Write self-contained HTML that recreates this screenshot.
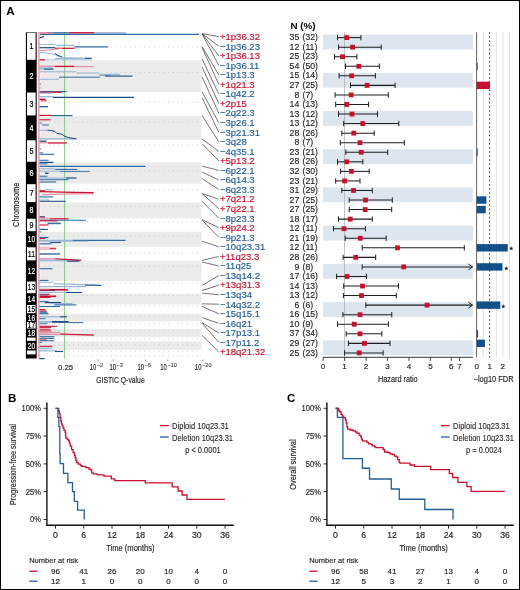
<!DOCTYPE html>
<html><head><meta charset="utf-8"><style>
html,body{margin:0;padding:0;background:#fff;}
body{width:520px;height:590px;overflow:hidden;}
svg{display:block;font-family:"Liberation Sans", sans-serif;will-change:transform;}
</style></head><body>
<svg width="520" height="590" viewBox="0 0 520 590">
<rect x="0" y="0" width="520" height="590" fill="#fff"/>
<text x="6.30" y="15.10" font-size="11.6" fill="#000" text-anchor="start" font-weight="bold" >A</text>
<rect x="40.30" y="60.30" width="161.20" height="31.70" fill="#ebebec" />
<rect x="40.30" y="115.90" width="161.20" height="23.90" fill="#ebebec" />
<rect x="40.30" y="162.30" width="161.20" height="21.40" fill="#ebebec" />
<rect x="40.30" y="202.60" width="161.20" height="15.60" fill="#ebebec" />
<rect x="40.30" y="231.70" width="161.20" height="15.10" fill="#ebebec" />
<rect x="40.30" y="260.90" width="161.20" height="20.10" fill="#ebebec" />
<rect x="40.30" y="293.70" width="161.20" height="10.80" fill="#ebebec" />
<rect x="40.30" y="313.70" width="161.20" height="7.80" fill="#ebebec" />
<rect x="40.30" y="329.00" width="161.20" height="8.10" fill="#ebebec" />
<rect x="40.30" y="341.30" width="161.20" height="8.70" fill="#ebebec" />
<line x1="39.80" y1="46.86" x2="201.50" y2="46.86" stroke="#c4c4c4" stroke-width="0.9" stroke-dasharray="0.9 3.85"/>
<line x1="39.80" y1="72.47" x2="201.50" y2="72.47" stroke="#c4c4c4" stroke-width="0.9" stroke-dasharray="0.9 3.85"/>
<line x1="39.80" y1="102.28" x2="201.50" y2="102.28" stroke="#c4c4c4" stroke-width="0.9" stroke-dasharray="0.9 3.85"/>
<line x1="39.80" y1="121.88" x2="201.50" y2="121.88" stroke="#c4c4c4" stroke-width="0.9" stroke-dasharray="0.9 3.85"/>
<line x1="39.80" y1="145.20" x2="201.50" y2="145.20" stroke="#c4c4c4" stroke-width="0.9" stroke-dasharray="0.9 3.85"/>
<line x1="39.80" y1="170.86" x2="201.50" y2="170.86" stroke="#c4c4c4" stroke-width="0.9" stroke-dasharray="0.9 3.85"/>
<line x1="39.80" y1="189.94" x2="201.50" y2="189.94" stroke="#c4c4c4" stroke-width="0.9" stroke-dasharray="0.9 3.85"/>
<line x1="39.80" y1="206.50" x2="201.50" y2="206.50" stroke="#c4c4c4" stroke-width="0.9" stroke-dasharray="0.9 3.85"/>
<line x1="39.80" y1="221.98" x2="201.50" y2="221.98" stroke="#c4c4c4" stroke-width="0.9" stroke-dasharray="0.9 3.85"/>
<line x1="39.80" y1="236.38" x2="201.50" y2="236.38" stroke="#c4c4c4" stroke-width="0.9" stroke-dasharray="0.9 3.85"/>
<line x1="39.80" y1="253.14" x2="201.50" y2="253.14" stroke="#c4c4c4" stroke-width="0.9" stroke-dasharray="0.9 3.85"/>
<line x1="39.80" y1="266.27" x2="201.50" y2="266.27" stroke="#c4c4c4" stroke-width="0.9" stroke-dasharray="0.9 3.85"/>
<line x1="39.80" y1="282.97" x2="201.50" y2="282.97" stroke="#c4c4c4" stroke-width="0.9" stroke-dasharray="0.9 3.85"/>
<line x1="39.80" y1="295.47" x2="201.50" y2="295.47" stroke="#c4c4c4" stroke-width="0.9" stroke-dasharray="0.9 3.85"/>
<line x1="39.80" y1="306.20" x2="201.50" y2="306.20" stroke="#c4c4c4" stroke-width="0.9" stroke-dasharray="0.9 3.85"/>
<line x1="39.80" y1="316.86" x2="201.50" y2="316.86" stroke="#c4c4c4" stroke-width="0.9" stroke-dasharray="0.9 3.85"/>
<line x1="39.80" y1="323.72" x2="201.50" y2="323.72" stroke="#c4c4c4" stroke-width="0.9" stroke-dasharray="0.9 3.85"/>
<line x1="39.80" y1="330.78" x2="201.50" y2="330.78" stroke="#c4c4c4" stroke-width="0.9" stroke-dasharray="0.9 3.85"/>
<line x1="39.80" y1="338.98" x2="201.50" y2="338.98" stroke="#c4c4c4" stroke-width="0.9" stroke-dasharray="0.9 3.85"/>
<line x1="39.80" y1="345.10" x2="201.50" y2="345.10" stroke="#c4c4c4" stroke-width="0.9" stroke-dasharray="0.9 3.85"/>
<line x1="39.80" y1="351.34" x2="201.50" y2="351.34" stroke="#c4c4c4" stroke-width="0.9" stroke-dasharray="0.9 3.85"/>
<line x1="39.80" y1="355.93" x2="201.50" y2="355.93" stroke="#c4c4c4" stroke-width="0.9" stroke-dasharray="0.9 3.85"/>
<rect x="25.9" y="32.3" width="10.80" height="326.20" fill="#000"/>
<rect x="27.00" y="32.80" width="8.60" height="27.00" fill="#fff"/>
<rect x="27.00" y="92.50" width="8.60" height="22.90" fill="#fff"/>
<rect x="27.00" y="140.30" width="8.60" height="21.50" fill="#fff"/>
<rect x="27.00" y="184.20" width="8.60" height="17.90" fill="#fff"/>
<rect x="27.00" y="218.70" width="8.60" height="12.50" fill="#fff"/>
<rect x="27.00" y="247.30" width="8.60" height="13.10" fill="#fff"/>
<rect x="27.00" y="281.50" width="8.60" height="11.70" fill="#fff"/>
<rect x="27.00" y="305.00" width="8.60" height="8.20" fill="#fff"/>
<rect x="27.00" y="322.00" width="8.60" height="6.50" fill="#fff"/>
<rect x="27.00" y="337.60" width="8.60" height="3.20" fill="#fff"/>
<rect x="27.00" y="350.50" width="8.60" height="3.90" fill="#fff"/>
<text x="31.50" y="49.20" font-size="8.3" fill="#000" stroke="#000" stroke-width="0.2" text-anchor="middle" textLength="4.00" lengthAdjust="spacingAndGlyphs" >1</text>
<text x="31.50" y="79.05" font-size="8.3" fill="#fff" stroke="#fff" stroke-width="0.2" text-anchor="middle" textLength="4.00" lengthAdjust="spacingAndGlyphs" >2</text>
<text x="31.50" y="106.85" font-size="8.3" fill="#000" stroke="#000" stroke-width="0.2" text-anchor="middle" textLength="4.00" lengthAdjust="spacingAndGlyphs" >3</text>
<text x="31.50" y="130.75" font-size="8.3" fill="#fff" stroke="#fff" stroke-width="0.2" text-anchor="middle" textLength="4.00" lengthAdjust="spacingAndGlyphs" >4</text>
<text x="31.50" y="153.95" font-size="8.3" fill="#000" stroke="#000" stroke-width="0.2" text-anchor="middle" textLength="4.00" lengthAdjust="spacingAndGlyphs" >5</text>
<text x="31.50" y="175.90" font-size="8.3" fill="#fff" stroke="#fff" stroke-width="0.2" text-anchor="middle" textLength="4.00" lengthAdjust="spacingAndGlyphs" >6</text>
<text x="31.50" y="196.05" font-size="8.3" fill="#000" stroke="#000" stroke-width="0.2" text-anchor="middle" textLength="4.00" lengthAdjust="spacingAndGlyphs" >7</text>
<text x="31.50" y="213.30" font-size="8.3" fill="#fff" stroke="#fff" stroke-width="0.2" text-anchor="middle" textLength="4.00" lengthAdjust="spacingAndGlyphs" >8</text>
<text x="31.50" y="227.85" font-size="8.3" fill="#000" stroke="#000" stroke-width="0.2" text-anchor="middle" textLength="4.00" lengthAdjust="spacingAndGlyphs" >9</text>
<text x="31.50" y="242.15" font-size="8.3" fill="#fff" stroke="#fff" stroke-width="0.2" text-anchor="middle" textLength="7.30" lengthAdjust="spacingAndGlyphs" >10</text>
<text x="31.50" y="256.75" font-size="8.3" fill="#000" stroke="#000" stroke-width="0.2" text-anchor="middle" textLength="7.30" lengthAdjust="spacingAndGlyphs" >11</text>
<text x="31.50" y="273.85" font-size="8.3" fill="#fff" stroke="#fff" stroke-width="0.2" text-anchor="middle" textLength="7.30" lengthAdjust="spacingAndGlyphs" >12</text>
<text x="31.50" y="290.25" font-size="8.3" fill="#000" stroke="#000" stroke-width="0.2" text-anchor="middle" textLength="7.30" lengthAdjust="spacingAndGlyphs" >13</text>
<text x="31.50" y="302.00" font-size="8.3" fill="#fff" stroke="#fff" stroke-width="0.2" text-anchor="middle" textLength="7.30" lengthAdjust="spacingAndGlyphs" >14</text>
<text x="31.50" y="312.00" font-size="8.3" fill="#000" stroke="#000" stroke-width="0.2" text-anchor="middle" textLength="7.30" lengthAdjust="spacingAndGlyphs" >15</text>
<text x="31.50" y="320.50" font-size="8.3" fill="#fff" stroke="#fff" stroke-width="0.2" text-anchor="middle" textLength="7.30" lengthAdjust="spacingAndGlyphs" >16</text>
<text x="31.50" y="328.15" font-size="8.3" fill="#000" stroke="#000" stroke-width="0.2" text-anchor="middle" textLength="7.30" lengthAdjust="spacingAndGlyphs" >17</text>
<text x="31.50" y="335.95" font-size="8.3" fill="#fff" stroke="#fff" stroke-width="0.2" text-anchor="middle" textLength="7.30" lengthAdjust="spacingAndGlyphs" >18</text>
<text x="31.50" y="348.55" font-size="8.3" fill="#fff" stroke="#fff" stroke-width="0.2" text-anchor="middle" textLength="7.30" lengthAdjust="spacingAndGlyphs" >20</text>
<text transform="translate(19.4,204.8) rotate(-90)" x="0" y="0" font-size="9.3" fill="#231f20" stroke="#231f20" stroke-width="0.16" text-anchor="middle" textLength="44.3" lengthAdjust="spacingAndGlyphs">Chromosome</text>
<line x1="64.60" y1="32.20" x2="64.60" y2="358.50" stroke="#7cc576" stroke-width="0.9" />
<polyline points="39.20,32.60 47.00,32.60" fill="none" stroke="#e58c9c" stroke-width="1.2" />
<polyline points="69.00,32.80 86.00,32.80" fill="none" stroke="#c8102e" stroke-width="1.4" />
<polyline points="86.00,32.80 94.50,32.80" fill="none" stroke="#b80f2a" stroke-width="1.4" />
<polyline points="47.00,32.90 69.00,32.90" fill="none" stroke="#1b4d85" stroke-width="1.2" />
<polyline points="94.50,32.90 126.00,32.90" fill="none" stroke="#98b6d4" stroke-width="1.6" />
<polyline points="40.00,34.40 199.00,34.40" fill="none" stroke="#2f6aa3" stroke-width="1.1" />
<polyline points="39.50,33.30 54.30,33.30" fill="none" stroke="#e58c9c" stroke-width="1.2" />
<polyline points="39.20,44.40 56.20,44.40" fill="none" stroke="#98b6d4" stroke-width="1.0" />
<polyline points="56.20,45.40 74.50,45.40" fill="none" stroke="#98b6d4" stroke-width="1.2" />
<polyline points="74.50,46.90 108.10,46.90" fill="none" stroke="#2f6aa3" stroke-width="1.1" />
<polyline points="39.20,47.70 55.20,47.70" fill="none" stroke="#1b4d85" stroke-width="1.2" />
<polyline points="55.00,48.30 74.50,48.30" fill="none" stroke="#c8102e" stroke-width="1.2" />
<polyline points="39.20,52.70 45.00,52.70" fill="none" stroke="#98b6d4" stroke-width="1.0" />
<polyline points="55.00,58.60 85.00,58.60" fill="none" stroke="#98b6d4" stroke-width="1.2" />
<polyline points="85.00,58.30 91.80,58.30" fill="none" stroke="#1b4d85" stroke-width="1.2" />
<polyline points="39.20,59.80 91.80,59.80" fill="none" stroke="#98b6d4" stroke-width="0.8" />
<polyline points="39.20,59.80 45.00,59.80" fill="none" stroke="#c8102e" stroke-width="1.2" />
<polyline points="39.20,66.20 55.00,66.20" fill="none" stroke="#e58c9c" stroke-width="1.2" />
<polyline points="55.00,66.40 74.00,66.40" fill="none" stroke="#c8102e" stroke-width="1.3" />
<polyline points="74.00,66.60 93.70,66.60" fill="none" stroke="#e58c9c" stroke-width="1.2" />
<polyline points="39.20,68.50 53.30,68.50" fill="none" stroke="#98b6d4" stroke-width="2.2" />
<polyline points="44.00,69.20 53.30,69.20" fill="none" stroke="#1b4d85" stroke-width="0.9" />
<polyline points="39.20,71.80 76.40,71.80" fill="none" stroke="#98b6d4" stroke-width="1.1" />
<polyline points="76.40,73.00 99.50,73.00" fill="none" stroke="#98b6d4" stroke-width="1.1" />
<polyline points="99.50,75.00 111.00,75.00" fill="none" stroke="#2f6aa3" stroke-width="1.0" />
<polyline points="105.00,76.10 132.50,76.10" fill="none" stroke="#1b4d85" stroke-width="1.1" />
<polyline points="100.00,74.40 120.00,74.40" fill="none" stroke="#98b6d4" stroke-width="1.2" />
<polyline points="59.00,77.20 100.00,77.20" fill="none" stroke="#2f6aa3" stroke-width="1.0" />
<polyline points="39.20,79.30 59.00,79.30" fill="none" stroke="#98b6d4" stroke-width="1.0" />
<polyline points="39.20,84.00 41.00,84.00" fill="none" stroke="#2f6aa3" stroke-width="0.9" />
<polyline points="39.20,88.00 40.50,88.00" fill="none" stroke="#2f6aa3" stroke-width="0.9" />
<polyline points="39.20,91.60 66.80,91.60" fill="none" stroke="#2f6aa3" stroke-width="1.1" />
<polyline points="39.20,92.20 62.00,92.20" fill="none" stroke="#c8102e" stroke-width="1.2" />
<polyline points="39.20,93.20 53.30,93.20" fill="none" stroke="#98b6d4" stroke-width="1.2" />
<polyline points="39.20,96.70 53.30,96.70" fill="none" stroke="#98b6d4" stroke-width="1.3" />
<polyline points="53.00,97.40 134.00,97.40" fill="none" stroke="#1b4d85" stroke-width="1.1" />
<polyline points="39.20,99.40 45.60,99.40" fill="none" stroke="#c8102e" stroke-width="1.6" />
<polyline points="41.00,100.80 47.00,100.80" fill="none" stroke="#c8102e" stroke-width="0.8" />
<polyline points="39.20,106.70 48.00,106.70" fill="none" stroke="#1b4d85" stroke-width="1.2" />
<polyline points="39.20,115.40 51.40,115.40" fill="none" stroke="#c8102e" stroke-width="1.2" />
<polyline points="51.00,115.60 72.50,115.60" fill="none" stroke="#2f6aa3" stroke-width="1.2" />
<polyline points="39.20,119.80 50.40,119.80" fill="none" stroke="#c8102e" stroke-width="1.1" />
<polyline points="39.20,123.00 42.00,123.00" fill="none" stroke="#2f6aa3" stroke-width="0.9" />
<polyline points="42.00,125.00 49.00,125.00" fill="none" stroke="#2f6aa3" stroke-width="1.0" />
<polyline points="39.20,130.30 47.50,130.30" fill="none" stroke="#98b6d4" stroke-width="1.0" />
<polyline points="39.20,138.90 76.40,138.90" fill="none" stroke="#98b6d4" stroke-width="1.2" />
<polyline points="39.20,141.20 46.60,141.20" fill="none" stroke="#1b4d85" stroke-width="1.3" />
<polyline points="39.20,142.80 66.80,142.80" fill="none" stroke="#e58c9c" stroke-width="1.2" />
<polyline points="48.00,143.00 66.80,143.00" fill="none" stroke="#c8102e" stroke-width="1.0" />
<polyline points="39.20,148.90 41.00,148.90" fill="none" stroke="#2f6aa3" stroke-width="0.9" />
<polyline points="39.20,152.80 43.00,152.80" fill="none" stroke="#2f6aa3" stroke-width="0.9" />
<polyline points="39.20,154.30 54.30,154.30" fill="none" stroke="#2f6aa3" stroke-width="1.1" />
<polyline points="39.20,160.30 48.50,160.30" fill="none" stroke="#2f6aa3" stroke-width="1.1" />
<polyline points="39.20,162.40 53.30,162.40" fill="none" stroke="#1b4d85" stroke-width="1.2" />
<polyline points="39.20,163.90 47.50,163.90" fill="none" stroke="#2f6aa3" stroke-width="1.0" />
<polyline points="39.20,166.30 145.60,166.30" fill="none" stroke="#2f6aa3" stroke-width="1.2" />
<polyline points="39.20,168.80 55.20,168.80" fill="none" stroke="#98b6d4" stroke-width="1.1" />
<polyline points="55.20,169.40 77.30,169.40" fill="none" stroke="#2f6aa3" stroke-width="1.1" />
<polyline points="39.20,171.30 89.80,171.30" fill="none" stroke="#98b6d4" stroke-width="1.1" />
<polyline points="60.00,171.60 89.80,171.60" fill="none" stroke="#2f6aa3" stroke-width="0.8" />
<polyline points="45.00,173.30 48.50,173.30" fill="none" stroke="#1b4d85" stroke-width="1.4" />
<polyline points="39.20,176.20 47.50,176.20" fill="none" stroke="#2f6aa3" stroke-width="1.0" />
<polyline points="39.20,178.00 66.00,178.00" fill="none" stroke="#98b6d4" stroke-width="1.2" />
<polyline points="66.00,178.00 76.40,178.00" fill="none" stroke="#1b4d85" stroke-width="1.2" />
<polyline points="39.20,179.70 68.70,179.70" fill="none" stroke="#2f6aa3" stroke-width="1.0" />
<polyline points="39.20,182.00 56.20,182.00" fill="none" stroke="#2f6aa3" stroke-width="1.1" />
<polyline points="45.00,189.80 53.30,189.80" fill="none" stroke="#98b6d4" stroke-width="1.1" />
<polyline points="39.20,190.80 45.00,190.80" fill="none" stroke="#c8102e" stroke-width="1.2" />
<polyline points="39.20,196.90 53.30,196.90" fill="none" stroke="#2f6aa3" stroke-width="1.1" />
<polyline points="39.20,200.00 49.50,200.00" fill="none" stroke="#98b6d4" stroke-width="1.1" />
<polyline points="39.20,201.30 65.80,201.30" fill="none" stroke="#1b4d85" stroke-width="1.1" />
<polyline points="39.20,216.90 45.00,216.90" fill="none" stroke="#c8102e" stroke-width="1.2" />
<polyline points="39.20,216.70 44.70,216.70" fill="none" stroke="#2f6aa3" stroke-width="0.9" />
<polyline points="39.20,218.80 50.00,218.80" fill="none" stroke="#e58c9c" stroke-width="1.2" />
<polyline points="50.00,218.80 68.70,218.80" fill="none" stroke="#c8102e" stroke-width="1.2" />
<polyline points="39.20,220.20 86.00,220.20" fill="none" stroke="#2f6aa3" stroke-width="1.1" />
<polyline points="39.20,220.80 57.20,220.80" fill="none" stroke="#c8102e" stroke-width="1.1" />
<polyline points="47.50,222.30 60.00,222.30" fill="none" stroke="#98b6d4" stroke-width="1.1" />
<polyline points="47.50,223.70 61.00,223.70" fill="none" stroke="#1b4d85" stroke-width="1.0" />
<polyline points="39.20,225.00 48.50,225.00" fill="none" stroke="#c8102e" stroke-width="1.1" />
<polyline points="39.20,229.40 48.00,229.40" fill="none" stroke="#1b4d85" stroke-width="1.1" />
<polyline points="39.20,231.90 41.00,231.90" fill="none" stroke="#2f6aa3" stroke-width="0.9" />
<polyline points="39.20,237.50 48.50,237.50" fill="none" stroke="#2f6aa3" stroke-width="1.1" />
<polyline points="39.20,238.50 45.00,238.50" fill="none" stroke="#c8102e" stroke-width="1.2" />
<polyline points="39.20,240.30 72.50,240.30" fill="none" stroke="#98b6d4" stroke-width="1.2" />
<polyline points="72.50,240.40 125.50,240.40" fill="none" stroke="#2f6aa3" stroke-width="1.1" />
<polyline points="39.20,241.30 88.00,241.30" fill="none" stroke="#98b6d4" stroke-width="0.9" />
<polyline points="50.40,242.50 61.00,242.50" fill="none" stroke="#1b4d85" stroke-width="1.0" />
<polyline points="39.20,243.80 51.40,243.80" fill="none" stroke="#2f6aa3" stroke-width="1.1" />
<polyline points="39.20,247.90 56.20,247.90" fill="none" stroke="#e58c9c" stroke-width="0.9" />
<polyline points="39.20,249.20 56.20,249.20" fill="none" stroke="#e58c9c" stroke-width="0.9" />
<polyline points="50.00,248.50 56.20,248.50" fill="none" stroke="#c8102e" stroke-width="0.8" />
<polyline points="39.20,254.00 60.00,254.00" fill="none" stroke="#1b4d85" stroke-width="1.2" />
<polyline points="39.20,258.80 55.20,258.80" fill="none" stroke="#e58c9c" stroke-width="1.3" />
<polyline points="39.20,260.40 81.20,260.40" fill="none" stroke="#98b6d4" stroke-width="1.6" />
<polyline points="67.00,261.20 79.30,261.20" fill="none" stroke="#1b4d85" stroke-width="1.1" />
<polyline points="39.20,268.70 52.30,268.70" fill="none" stroke="#2f6aa3" stroke-width="1.1" />
<polyline points="39.20,280.40 48.50,280.40" fill="none" stroke="#2f6aa3" stroke-width="1.1" />
<polyline points="39.20,282.20 53.30,282.20" fill="none" stroke="#98b6d4" stroke-width="1.1" />
<polyline points="53.30,283.80 59.00,283.80" fill="none" stroke="#98b6d4" stroke-width="1.1" />
<polyline points="39.20,286.70 86.00,286.70" fill="none" stroke="#98b6d4" stroke-width="1.2" />
<polyline points="39.20,289.20 50.00,289.20" fill="none" stroke="#e58c9c" stroke-width="1.2" />
<polyline points="50.00,289.60 67.70,289.60" fill="none" stroke="#c8102e" stroke-width="1.4" />
<polyline points="39.20,290.50 55.20,290.50" fill="none" stroke="#1b4d85" stroke-width="1.2" />
<polyline points="39.20,292.40 66.00,292.40" fill="none" stroke="#98b6d4" stroke-width="1.1" />
<polyline points="66.00,292.50 82.20,292.50" fill="none" stroke="#1b4d85" stroke-width="1.1" />
<polyline points="39.20,294.30 49.50,294.30" fill="none" stroke="#c8102e" stroke-width="1.1" />
<polyline points="39.20,294.90 47.50,294.90" fill="none" stroke="#2f6aa3" stroke-width="0.9" />
<polyline points="39.20,296.30 56.20,296.30" fill="none" stroke="#c8102e" stroke-width="1.6" />
<polyline points="39.20,297.40 50.40,297.40" fill="none" stroke="#c8102e" stroke-width="1.1" />
<polyline points="39.20,301.70 48.50,301.70" fill="none" stroke="#2f6aa3" stroke-width="1.1" />
<polyline points="45.00,302.60 61.00,302.60" fill="none" stroke="#1b4d85" stroke-width="1.3" />
<polyline points="50.00,303.60 72.50,303.60" fill="none" stroke="#98b6d4" stroke-width="1.2" />
<polyline points="54.30,304.90 76.40,304.90" fill="none" stroke="#2f6aa3" stroke-width="1.1" />
<polyline points="39.20,306.50 60.00,306.50" fill="none" stroke="#2f6aa3" stroke-width="1.1" />
<polyline points="39.20,309.70 45.60,309.70" fill="none" stroke="#c8102e" stroke-width="1.2" />
<polyline points="39.20,311.10 46.60,311.10" fill="none" stroke="#c8102e" stroke-width="1.1" />
<polyline points="39.20,312.20 47.50,312.20" fill="none" stroke="#2f6aa3" stroke-width="1.2" />
<polyline points="39.20,313.70 48.50,313.70" fill="none" stroke="#2f6aa3" stroke-width="1.2" />
<polyline points="39.20,316.70 60.00,316.70" fill="none" stroke="#98b6d4" stroke-width="1.2" />
<polyline points="60.00,316.80 66.80,316.80" fill="none" stroke="#1b4d85" stroke-width="1.2" />
<polyline points="39.20,318.70 45.60,318.70" fill="none" stroke="#2f6aa3" stroke-width="1.0" />
<polyline points="39.20,321.90 52.00,321.90" fill="none" stroke="#98b6d4" stroke-width="1.8" />
<polyline points="52.00,321.90 68.70,321.90" fill="none" stroke="#1b4d85" stroke-width="1.8" />
<polyline points="68.70,322.60 83.10,322.60" fill="none" stroke="#2f6aa3" stroke-width="1.0" />
<polyline points="39.20,323.80 47.50,323.80" fill="none" stroke="#2f6aa3" stroke-width="1.0" />
<polyline points="39.20,326.30 57.20,326.30" fill="none" stroke="#c8102e" stroke-width="1.1" />
<polyline points="39.20,327.30 51.40,327.30" fill="none" stroke="#c8102e" stroke-width="1.1" />
<polyline points="39.20,329.20 50.40,329.20" fill="none" stroke="#c8102e" stroke-width="1.0" />
<polyline points="39.20,331.00 51.40,331.00" fill="none" stroke="#c8102e" stroke-width="1.0" />
<polyline points="39.20,332.30 60.00,332.30" fill="none" stroke="#e58c9c" stroke-width="1.1" />
<polyline points="39.20,334.60 59.00,334.60" fill="none" stroke="#98b6d4" stroke-width="1.1" />
<polyline points="39.20,336.70 54.30,336.70" fill="none" stroke="#2f6aa3" stroke-width="1.1" />
<polyline points="39.20,338.30 54.30,338.30" fill="none" stroke="#2f6aa3" stroke-width="1.1" />
<polyline points="39.20,340.00 46.60,340.00" fill="none" stroke="#c8102e" stroke-width="1.1" />
<polyline points="39.20,340.80 54.30,340.80" fill="none" stroke="#2f6aa3" stroke-width="1.0" />
<polyline points="39.20,342.50 42.00,342.50" fill="none" stroke="#2f6aa3" stroke-width="0.9" />
<polyline points="39.20,346.30 52.30,346.30" fill="none" stroke="#c8102e" stroke-width="1.1" />
<polyline points="39.20,348.20 52.30,348.20" fill="none" stroke="#98b6d4" stroke-width="1.2" />
<polyline points="39.20,350.80 57.20,350.80" fill="none" stroke="#98b6d4" stroke-width="1.2" />
<polyline points="55.00,351.50 62.90,351.50" fill="none" stroke="#1b4d85" stroke-width="1.1" />
<polyline points="39.20,358.60 44.70,358.60" fill="none" stroke="#1b4d85" stroke-width="1.2" />
<polyline points="39.20,38.00 42.00,37.20 44.00,36.60" fill="none" stroke="#1b4d85" stroke-width="1.3" />
<polyline points="39.20,50.80 50.00,49.80 62.00,48.50" fill="none" stroke="#e58c9c" stroke-width="1.0" />
<polyline points="45.00,52.70 55.00,54.50 59.00,56.50 63.00,57.50 85.00,58.40" fill="none" stroke="#98b6d4" stroke-width="1.1" />
<polyline points="55.00,53.50 58.00,55.50 62.00,56.80" fill="none" stroke="#1b4d85" stroke-width="1.0" />
<polyline points="47.50,130.30 52.00,130.50 55.00,131.50 57.00,133.50 62.00,134.20 65.00,136.50 70.00,137.80 76.40,138.90" fill="none" stroke="#1b4d85" stroke-width="1.0" />
<polyline points="39.20,191.70 74.50,192.30 93.70,192.60" fill="none" stroke="#c8102e" stroke-width="1.3" />
<polyline points="42.00,194.60 74.50,193.90 93.70,193.60" fill="none" stroke="#e58c9c" stroke-width="1.2" />
<polyline points="55.20,258.80 70.00,259.60 81.20,260.20" fill="none" stroke="#c8102e" stroke-width="1.1" />
<polyline points="59.00,283.80 80.00,284.60 101.40,285.40" fill="none" stroke="#98b6d4" stroke-width="1.2" />
<polyline points="85.00,285.00 101.40,285.40" fill="none" stroke="#1b4d85" stroke-width="1.0" />
<polyline points="39.20,290.00 67.70,290.00" fill="none" stroke="#c8102e" stroke-width="1.0" />
<polyline points="39.20,333.80 60.00,334.30 93.70,335.30" fill="none" stroke="#e58c9c" stroke-width="1.3" />
<polyline points="60.00,334.00 93.70,335.00" fill="none" stroke="#c8102e" stroke-width="1.0" />
<polyline points="62.00,352.00 62.90,351.00" fill="none" stroke="#1b4d85" stroke-width="1.0" />
<line x1="38.90" y1="32.20" x2="38.90" y2="358.30" stroke="#e89aab" stroke-width="1.5" />
<text x="65.50" y="369.80" font-size="8.0" fill="#231f20" stroke="#231f20" stroke-width="0.16" text-anchor="middle" textLength="15.10" lengthAdjust="spacingAndGlyphs" >0.25</text>
<text x="89.70" y="369.50" font-size="8.6" fill="#231f20" stroke="#231f20" stroke-width="0.16" text-anchor="start" textLength="6.50" lengthAdjust="spacingAndGlyphs" >10</text>
<text x="96.80" y="366.60" font-size="5.6" fill="#231f20" stroke="#231f20" stroke-width="0.05" text-anchor="start" >−2</text>
<text x="109.40" y="369.50" font-size="8.6" fill="#231f20" stroke="#231f20" stroke-width="0.16" text-anchor="start" textLength="6.50" lengthAdjust="spacingAndGlyphs" >10</text>
<text x="116.50" y="366.60" font-size="5.6" fill="#231f20" stroke="#231f20" stroke-width="0.05" text-anchor="start" >−3</text>
<text x="137.50" y="369.50" font-size="8.6" fill="#231f20" stroke="#231f20" stroke-width="0.16" text-anchor="start" textLength="6.50" lengthAdjust="spacingAndGlyphs" >10</text>
<text x="144.60" y="366.60" font-size="5.6" fill="#231f20" stroke="#231f20" stroke-width="0.05" text-anchor="start" >−6</text>
<text x="160.30" y="369.50" font-size="8.6" fill="#231f20" stroke="#231f20" stroke-width="0.16" text-anchor="start" textLength="6.50" lengthAdjust="spacingAndGlyphs" >10</text>
<text x="167.40" y="366.60" font-size="5.6" fill="#231f20" stroke="#231f20" stroke-width="0.05" text-anchor="start" >−10</text>
<text x="194.90" y="369.50" font-size="8.6" fill="#231f20" stroke="#231f20" stroke-width="0.16" text-anchor="start" textLength="6.50" lengthAdjust="spacingAndGlyphs" >10</text>
<text x="202.00" y="366.60" font-size="5.6" fill="#231f20" stroke="#231f20" stroke-width="0.05" text-anchor="start" >−20</text>
<line x1="98.00" y1="359.60" x2="98.00" y2="361.20" stroke="#666" stroke-width="0.7" />
<line x1="113.40" y1="359.60" x2="113.40" y2="361.20" stroke="#666" stroke-width="0.7" />
<line x1="145.60" y1="359.60" x2="145.60" y2="361.20" stroke="#666" stroke-width="0.7" />
<line x1="167.90" y1="359.60" x2="167.90" y2="361.20" stroke="#666" stroke-width="0.7" />
<line x1="202.70" y1="359.60" x2="202.70" y2="361.20" stroke="#666" stroke-width="0.7" />
<text x="96.20" y="382.70" font-size="9.2" fill="#231f20" stroke="#231f20" stroke-width="0.16" text-anchor="start" textLength="48.50" lengthAdjust="spacingAndGlyphs" >GISTIC Q-value</text>
<text x="219.90" y="40.00" font-size="9.4" fill="#c8102e" stroke="#c8102e" stroke-width="0.16" text-anchor="start" textLength="40.10" lengthAdjust="spacingAndGlyphs" >+1p36.32</text>
<text x="219.90" y="49.55" font-size="9.4" fill="#225d97" stroke="#225d97" stroke-width="0.16" text-anchor="start" textLength="40.10" lengthAdjust="spacingAndGlyphs" >−1p36.23</text>
<text x="219.90" y="59.11" font-size="9.4" fill="#c8102e" stroke="#c8102e" stroke-width="0.16" text-anchor="start" textLength="40.10" lengthAdjust="spacingAndGlyphs" >+1p36.13</text>
<text x="219.90" y="68.67" font-size="9.4" fill="#225d97" stroke="#225d97" stroke-width="0.16" text-anchor="start" textLength="39.39" lengthAdjust="spacingAndGlyphs" >−1p36.11</text>
<text x="219.90" y="78.22" font-size="9.4" fill="#225d97" stroke="#225d97" stroke-width="0.16" text-anchor="start" textLength="34.79" lengthAdjust="spacingAndGlyphs" >−1p13.3</text>
<text x="219.90" y="87.78" font-size="9.4" fill="#c8102e" stroke="#c8102e" stroke-width="0.16" text-anchor="start" textLength="34.79" lengthAdjust="spacingAndGlyphs" >+1q21.3</text>
<text x="219.90" y="97.33" font-size="9.4" fill="#225d97" stroke="#225d97" stroke-width="0.16" text-anchor="start" textLength="34.79" lengthAdjust="spacingAndGlyphs" >−1q42.2</text>
<text x="219.90" y="106.88" font-size="9.4" fill="#c8102e" stroke="#c8102e" stroke-width="0.16" text-anchor="start" textLength="26.82" lengthAdjust="spacingAndGlyphs" >+2p15</text>
<text x="219.90" y="116.44" font-size="9.4" fill="#225d97" stroke="#225d97" stroke-width="0.16" text-anchor="start" textLength="34.79" lengthAdjust="spacingAndGlyphs" >−2q22.3</text>
<text x="219.90" y="126.00" font-size="9.4" fill="#225d97" stroke="#225d97" stroke-width="0.16" text-anchor="start" textLength="34.79" lengthAdjust="spacingAndGlyphs" >−3p26.1</text>
<text x="219.90" y="135.55" font-size="9.4" fill="#225d97" stroke="#225d97" stroke-width="0.16" text-anchor="start" textLength="40.10" lengthAdjust="spacingAndGlyphs" >−3p21.31</text>
<text x="219.90" y="145.10" font-size="9.4" fill="#225d97" stroke="#225d97" stroke-width="0.16" text-anchor="start" textLength="26.82" lengthAdjust="spacingAndGlyphs" >−3q28</text>
<text x="219.90" y="154.66" font-size="9.4" fill="#225d97" stroke="#225d97" stroke-width="0.16" text-anchor="start" textLength="34.79" lengthAdjust="spacingAndGlyphs" >−4q35.1</text>
<text x="219.90" y="164.22" font-size="9.4" fill="#c8102e" stroke="#c8102e" stroke-width="0.16" text-anchor="start" textLength="34.79" lengthAdjust="spacingAndGlyphs" >+5p13.2</text>
<text x="219.90" y="173.77" font-size="9.4" fill="#225d97" stroke="#225d97" stroke-width="0.16" text-anchor="start" textLength="34.79" lengthAdjust="spacingAndGlyphs" >−6p22.1</text>
<text x="219.90" y="183.32" font-size="9.4" fill="#225d97" stroke="#225d97" stroke-width="0.16" text-anchor="start" textLength="34.79" lengthAdjust="spacingAndGlyphs" >−6q14.3</text>
<text x="219.90" y="192.88" font-size="9.4" fill="#225d97" stroke="#225d97" stroke-width="0.16" text-anchor="start" textLength="34.79" lengthAdjust="spacingAndGlyphs" >−6q23.3</text>
<text x="219.90" y="202.44" font-size="9.4" fill="#c8102e" stroke="#c8102e" stroke-width="0.16" text-anchor="start" textLength="34.79" lengthAdjust="spacingAndGlyphs" >+7q21.2</text>
<text x="219.90" y="211.99" font-size="9.4" fill="#c8102e" stroke="#c8102e" stroke-width="0.16" text-anchor="start" textLength="34.79" lengthAdjust="spacingAndGlyphs" >+7q22.1</text>
<text x="219.90" y="221.54" font-size="9.4" fill="#225d97" stroke="#225d97" stroke-width="0.16" text-anchor="start" textLength="34.79" lengthAdjust="spacingAndGlyphs" >−8p23.3</text>
<text x="219.90" y="231.10" font-size="9.4" fill="#c8102e" stroke="#c8102e" stroke-width="0.16" text-anchor="start" textLength="34.79" lengthAdjust="spacingAndGlyphs" >+9p24.2</text>
<text x="219.90" y="240.66" font-size="9.4" fill="#225d97" stroke="#225d97" stroke-width="0.16" text-anchor="start" textLength="34.79" lengthAdjust="spacingAndGlyphs" >−9p21.3</text>
<text x="219.90" y="250.21" font-size="9.4" fill="#225d97" stroke="#225d97" stroke-width="0.16" text-anchor="start" textLength="45.41" lengthAdjust="spacingAndGlyphs" >−10q23.31</text>
<text x="219.90" y="259.76" font-size="9.4" fill="#c8102e" stroke="#c8102e" stroke-width="0.16" text-anchor="start" textLength="39.39" lengthAdjust="spacingAndGlyphs" >+11q23.3</text>
<text x="219.90" y="269.32" font-size="9.4" fill="#225d97" stroke="#225d97" stroke-width="0.16" text-anchor="start" textLength="31.43" lengthAdjust="spacingAndGlyphs" >−11q25</text>
<text x="219.90" y="278.88" font-size="9.4" fill="#225d97" stroke="#225d97" stroke-width="0.16" text-anchor="start" textLength="40.10" lengthAdjust="spacingAndGlyphs" >−13q14.2</text>
<text x="219.90" y="288.43" font-size="9.4" fill="#c8102e" stroke="#c8102e" stroke-width="0.16" text-anchor="start" textLength="40.10" lengthAdjust="spacingAndGlyphs" >+13q31.3</text>
<text x="219.90" y="297.99" font-size="9.4" fill="#225d97" stroke="#225d97" stroke-width="0.16" text-anchor="start" textLength="32.14" lengthAdjust="spacingAndGlyphs" >−13q34</text>
<text x="219.90" y="307.54" font-size="9.4" fill="#225d97" stroke="#225d97" stroke-width="0.16" text-anchor="start" textLength="40.10" lengthAdjust="spacingAndGlyphs" >−14q32.2</text>
<text x="219.90" y="317.09" font-size="9.4" fill="#225d97" stroke="#225d97" stroke-width="0.16" text-anchor="start" textLength="40.10" lengthAdjust="spacingAndGlyphs" >−15q15.1</text>
<text x="219.90" y="326.65" font-size="9.4" fill="#225d97" stroke="#225d97" stroke-width="0.16" text-anchor="start" textLength="32.14" lengthAdjust="spacingAndGlyphs" >−16q21</text>
<text x="219.90" y="336.20" font-size="9.4" fill="#225d97" stroke="#225d97" stroke-width="0.16" text-anchor="start" textLength="40.10" lengthAdjust="spacingAndGlyphs" >−17p13.1</text>
<text x="219.90" y="345.76" font-size="9.4" fill="#225d97" stroke="#225d97" stroke-width="0.16" text-anchor="start" textLength="39.39" lengthAdjust="spacingAndGlyphs" >−17p11.2</text>
<text x="219.90" y="355.31" font-size="9.4" fill="#c8102e" stroke="#c8102e" stroke-width="0.16" text-anchor="start" textLength="45.41" lengthAdjust="spacingAndGlyphs" >+18q21.32</text>
<text x="290.50" y="28.90" font-size="9.4" fill="#000" text-anchor="start" textLength="25.00" lengthAdjust="spacingAndGlyphs" font-weight="bold" >N (%)</text>
<text x="299.30" y="40.20" font-size="9.3" fill="#231f20" stroke="#231f20" stroke-width="0.16" text-anchor="end" textLength="9.69" lengthAdjust="spacingAndGlyphs" >35</text>
<text x="302.50" y="40.20" font-size="9.3" fill="#231f20" stroke="#231f20" stroke-width="0.16" text-anchor="start" textLength="15.49" lengthAdjust="spacingAndGlyphs" >(32)</text>
<text x="299.30" y="49.76" font-size="9.3" fill="#231f20" stroke="#231f20" stroke-width="0.16" text-anchor="end" textLength="9.69" lengthAdjust="spacingAndGlyphs" >12</text>
<text x="302.50" y="49.76" font-size="9.3" fill="#231f20" stroke="#231f20" stroke-width="0.16" text-anchor="start" textLength="14.84" lengthAdjust="spacingAndGlyphs" >(11)</text>
<text x="299.30" y="59.31" font-size="9.3" fill="#231f20" stroke="#231f20" stroke-width="0.16" text-anchor="end" textLength="9.69" lengthAdjust="spacingAndGlyphs" >25</text>
<text x="302.50" y="59.31" font-size="9.3" fill="#231f20" stroke="#231f20" stroke-width="0.16" text-anchor="start" textLength="15.49" lengthAdjust="spacingAndGlyphs" >(23)</text>
<text x="299.30" y="68.86" font-size="9.3" fill="#231f20" stroke="#231f20" stroke-width="0.16" text-anchor="end" textLength="9.69" lengthAdjust="spacingAndGlyphs" >54</text>
<text x="302.50" y="68.86" font-size="9.3" fill="#231f20" stroke="#231f20" stroke-width="0.16" text-anchor="start" textLength="15.49" lengthAdjust="spacingAndGlyphs" >(50)</text>
<text x="299.30" y="78.42" font-size="9.3" fill="#231f20" stroke="#231f20" stroke-width="0.16" text-anchor="end" textLength="9.69" lengthAdjust="spacingAndGlyphs" >15</text>
<text x="302.50" y="78.42" font-size="9.3" fill="#231f20" stroke="#231f20" stroke-width="0.16" text-anchor="start" textLength="15.49" lengthAdjust="spacingAndGlyphs" >(14)</text>
<text x="299.30" y="87.97" font-size="9.3" fill="#231f20" stroke="#231f20" stroke-width="0.16" text-anchor="end" textLength="9.69" lengthAdjust="spacingAndGlyphs" >27</text>
<text x="302.50" y="87.97" font-size="9.3" fill="#231f20" stroke="#231f20" stroke-width="0.16" text-anchor="start" textLength="15.49" lengthAdjust="spacingAndGlyphs" >(25)</text>
<text x="299.30" y="97.53" font-size="9.3" fill="#231f20" stroke="#231f20" stroke-width="0.16" text-anchor="end" textLength="4.84" lengthAdjust="spacingAndGlyphs" >8</text>
<text x="302.50" y="97.53" font-size="9.3" fill="#231f20" stroke="#231f20" stroke-width="0.16" text-anchor="start" textLength="10.65" lengthAdjust="spacingAndGlyphs" >(7)</text>
<text x="299.30" y="107.08" font-size="9.3" fill="#231f20" stroke="#231f20" stroke-width="0.16" text-anchor="end" textLength="9.69" lengthAdjust="spacingAndGlyphs" >14</text>
<text x="302.50" y="107.08" font-size="9.3" fill="#231f20" stroke="#231f20" stroke-width="0.16" text-anchor="start" textLength="15.49" lengthAdjust="spacingAndGlyphs" >(13)</text>
<text x="299.30" y="116.64" font-size="9.3" fill="#231f20" stroke="#231f20" stroke-width="0.16" text-anchor="end" textLength="9.69" lengthAdjust="spacingAndGlyphs" >13</text>
<text x="302.50" y="116.64" font-size="9.3" fill="#231f20" stroke="#231f20" stroke-width="0.16" text-anchor="start" textLength="15.49" lengthAdjust="spacingAndGlyphs" >(12)</text>
<text x="299.30" y="126.19" font-size="9.3" fill="#231f20" stroke="#231f20" stroke-width="0.16" text-anchor="end" textLength="9.69" lengthAdjust="spacingAndGlyphs" >13</text>
<text x="302.50" y="126.19" font-size="9.3" fill="#231f20" stroke="#231f20" stroke-width="0.16" text-anchor="start" textLength="15.49" lengthAdjust="spacingAndGlyphs" >(12)</text>
<text x="299.30" y="135.75" font-size="9.3" fill="#231f20" stroke="#231f20" stroke-width="0.16" text-anchor="end" textLength="9.69" lengthAdjust="spacingAndGlyphs" >28</text>
<text x="302.50" y="135.75" font-size="9.3" fill="#231f20" stroke="#231f20" stroke-width="0.16" text-anchor="start" textLength="15.49" lengthAdjust="spacingAndGlyphs" >(26)</text>
<text x="299.30" y="145.30" font-size="9.3" fill="#231f20" stroke="#231f20" stroke-width="0.16" text-anchor="end" textLength="4.84" lengthAdjust="spacingAndGlyphs" >8</text>
<text x="302.50" y="145.30" font-size="9.3" fill="#231f20" stroke="#231f20" stroke-width="0.16" text-anchor="start" textLength="10.65" lengthAdjust="spacingAndGlyphs" >(7)</text>
<text x="299.30" y="154.86" font-size="9.3" fill="#231f20" stroke="#231f20" stroke-width="0.16" text-anchor="end" textLength="9.69" lengthAdjust="spacingAndGlyphs" >23</text>
<text x="302.50" y="154.86" font-size="9.3" fill="#231f20" stroke="#231f20" stroke-width="0.16" text-anchor="start" textLength="15.49" lengthAdjust="spacingAndGlyphs" >(21)</text>
<text x="299.30" y="164.41" font-size="9.3" fill="#231f20" stroke="#231f20" stroke-width="0.16" text-anchor="end" textLength="9.69" lengthAdjust="spacingAndGlyphs" >28</text>
<text x="302.50" y="164.41" font-size="9.3" fill="#231f20" stroke="#231f20" stroke-width="0.16" text-anchor="start" textLength="15.49" lengthAdjust="spacingAndGlyphs" >(26)</text>
<text x="299.30" y="173.97" font-size="9.3" fill="#231f20" stroke="#231f20" stroke-width="0.16" text-anchor="end" textLength="9.69" lengthAdjust="spacingAndGlyphs" >32</text>
<text x="302.50" y="173.97" font-size="9.3" fill="#231f20" stroke="#231f20" stroke-width="0.16" text-anchor="start" textLength="15.49" lengthAdjust="spacingAndGlyphs" >(30)</text>
<text x="299.30" y="183.52" font-size="9.3" fill="#231f20" stroke="#231f20" stroke-width="0.16" text-anchor="end" textLength="9.69" lengthAdjust="spacingAndGlyphs" >23</text>
<text x="302.50" y="183.52" font-size="9.3" fill="#231f20" stroke="#231f20" stroke-width="0.16" text-anchor="start" textLength="15.49" lengthAdjust="spacingAndGlyphs" >(21)</text>
<text x="299.30" y="193.08" font-size="9.3" fill="#231f20" stroke="#231f20" stroke-width="0.16" text-anchor="end" textLength="9.69" lengthAdjust="spacingAndGlyphs" >31</text>
<text x="302.50" y="193.08" font-size="9.3" fill="#231f20" stroke="#231f20" stroke-width="0.16" text-anchor="start" textLength="15.49" lengthAdjust="spacingAndGlyphs" >(29)</text>
<text x="299.30" y="202.63" font-size="9.3" fill="#231f20" stroke="#231f20" stroke-width="0.16" text-anchor="end" textLength="9.69" lengthAdjust="spacingAndGlyphs" >27</text>
<text x="302.50" y="202.63" font-size="9.3" fill="#231f20" stroke="#231f20" stroke-width="0.16" text-anchor="start" textLength="15.49" lengthAdjust="spacingAndGlyphs" >(25)</text>
<text x="299.30" y="212.19" font-size="9.3" fill="#231f20" stroke="#231f20" stroke-width="0.16" text-anchor="end" textLength="9.69" lengthAdjust="spacingAndGlyphs" >27</text>
<text x="302.50" y="212.19" font-size="9.3" fill="#231f20" stroke="#231f20" stroke-width="0.16" text-anchor="start" textLength="15.49" lengthAdjust="spacingAndGlyphs" >(25)</text>
<text x="299.30" y="221.74" font-size="9.3" fill="#231f20" stroke="#231f20" stroke-width="0.16" text-anchor="end" textLength="9.69" lengthAdjust="spacingAndGlyphs" >18</text>
<text x="302.50" y="221.74" font-size="9.3" fill="#231f20" stroke="#231f20" stroke-width="0.16" text-anchor="start" textLength="15.49" lengthAdjust="spacingAndGlyphs" >(17)</text>
<text x="299.30" y="231.30" font-size="9.3" fill="#231f20" stroke="#231f20" stroke-width="0.16" text-anchor="end" textLength="9.69" lengthAdjust="spacingAndGlyphs" >12</text>
<text x="302.50" y="231.30" font-size="9.3" fill="#231f20" stroke="#231f20" stroke-width="0.16" text-anchor="start" textLength="14.84" lengthAdjust="spacingAndGlyphs" >(11)</text>
<text x="299.30" y="240.85" font-size="9.3" fill="#231f20" stroke="#231f20" stroke-width="0.16" text-anchor="end" textLength="9.69" lengthAdjust="spacingAndGlyphs" >21</text>
<text x="302.50" y="240.85" font-size="9.3" fill="#231f20" stroke="#231f20" stroke-width="0.16" text-anchor="start" textLength="15.49" lengthAdjust="spacingAndGlyphs" >(19)</text>
<text x="299.30" y="250.41" font-size="9.3" fill="#231f20" stroke="#231f20" stroke-width="0.16" text-anchor="end" textLength="9.69" lengthAdjust="spacingAndGlyphs" >12</text>
<text x="302.50" y="250.41" font-size="9.3" fill="#231f20" stroke="#231f20" stroke-width="0.16" text-anchor="start" textLength="14.84" lengthAdjust="spacingAndGlyphs" >(11)</text>
<text x="299.30" y="259.97" font-size="9.3" fill="#231f20" stroke="#231f20" stroke-width="0.16" text-anchor="end" textLength="9.69" lengthAdjust="spacingAndGlyphs" >28</text>
<text x="302.50" y="259.97" font-size="9.3" fill="#231f20" stroke="#231f20" stroke-width="0.16" text-anchor="start" textLength="15.49" lengthAdjust="spacingAndGlyphs" >(26)</text>
<text x="299.30" y="269.52" font-size="9.3" fill="#231f20" stroke="#231f20" stroke-width="0.16" text-anchor="end" textLength="4.84" lengthAdjust="spacingAndGlyphs" >9</text>
<text x="302.50" y="269.52" font-size="9.3" fill="#231f20" stroke="#231f20" stroke-width="0.16" text-anchor="start" textLength="10.65" lengthAdjust="spacingAndGlyphs" >(8)</text>
<text x="299.30" y="279.08" font-size="9.3" fill="#231f20" stroke="#231f20" stroke-width="0.16" text-anchor="end" textLength="9.69" lengthAdjust="spacingAndGlyphs" >17</text>
<text x="302.50" y="279.08" font-size="9.3" fill="#231f20" stroke="#231f20" stroke-width="0.16" text-anchor="start" textLength="15.49" lengthAdjust="spacingAndGlyphs" >(16)</text>
<text x="299.30" y="288.63" font-size="9.3" fill="#231f20" stroke="#231f20" stroke-width="0.16" text-anchor="end" textLength="9.69" lengthAdjust="spacingAndGlyphs" >14</text>
<text x="302.50" y="288.63" font-size="9.3" fill="#231f20" stroke="#231f20" stroke-width="0.16" text-anchor="start" textLength="15.49" lengthAdjust="spacingAndGlyphs" >(13)</text>
<text x="299.30" y="298.19" font-size="9.3" fill="#231f20" stroke="#231f20" stroke-width="0.16" text-anchor="end" textLength="9.69" lengthAdjust="spacingAndGlyphs" >13</text>
<text x="302.50" y="298.19" font-size="9.3" fill="#231f20" stroke="#231f20" stroke-width="0.16" text-anchor="start" textLength="15.49" lengthAdjust="spacingAndGlyphs" >(12)</text>
<text x="299.30" y="307.74" font-size="9.3" fill="#231f20" stroke="#231f20" stroke-width="0.16" text-anchor="end" textLength="4.84" lengthAdjust="spacingAndGlyphs" >6</text>
<text x="302.50" y="307.74" font-size="9.3" fill="#231f20" stroke="#231f20" stroke-width="0.16" text-anchor="start" textLength="10.65" lengthAdjust="spacingAndGlyphs" >(6)</text>
<text x="299.30" y="317.30" font-size="9.3" fill="#231f20" stroke="#231f20" stroke-width="0.16" text-anchor="end" textLength="9.69" lengthAdjust="spacingAndGlyphs" >16</text>
<text x="302.50" y="317.30" font-size="9.3" fill="#231f20" stroke="#231f20" stroke-width="0.16" text-anchor="start" textLength="15.49" lengthAdjust="spacingAndGlyphs" >(15)</text>
<text x="299.30" y="326.85" font-size="9.3" fill="#231f20" stroke="#231f20" stroke-width="0.16" text-anchor="end" textLength="9.69" lengthAdjust="spacingAndGlyphs" >10</text>
<text x="302.50" y="326.85" font-size="9.3" fill="#231f20" stroke="#231f20" stroke-width="0.16" text-anchor="start" textLength="10.65" lengthAdjust="spacingAndGlyphs" >(9)</text>
<text x="299.30" y="336.41" font-size="9.3" fill="#231f20" stroke="#231f20" stroke-width="0.16" text-anchor="end" textLength="9.69" lengthAdjust="spacingAndGlyphs" >37</text>
<text x="302.50" y="336.41" font-size="9.3" fill="#231f20" stroke="#231f20" stroke-width="0.16" text-anchor="start" textLength="15.49" lengthAdjust="spacingAndGlyphs" >(34)</text>
<text x="299.30" y="345.96" font-size="9.3" fill="#231f20" stroke="#231f20" stroke-width="0.16" text-anchor="end" textLength="9.69" lengthAdjust="spacingAndGlyphs" >29</text>
<text x="302.50" y="345.96" font-size="9.3" fill="#231f20" stroke="#231f20" stroke-width="0.16" text-anchor="start" textLength="15.49" lengthAdjust="spacingAndGlyphs" >(27)</text>
<text x="299.30" y="355.52" font-size="9.3" fill="#231f20" stroke="#231f20" stroke-width="0.16" text-anchor="end" textLength="9.69" lengthAdjust="spacingAndGlyphs" >25</text>
<text x="302.50" y="355.52" font-size="9.3" fill="#231f20" stroke="#231f20" stroke-width="0.16" text-anchor="start" textLength="15.49" lengthAdjust="spacingAndGlyphs" >(23)</text>
<rect x="323.00" y="34.60" width="149.80" height="14.80" fill="#dde5ee" />
<rect x="323.00" y="72.82" width="149.80" height="14.80" fill="#dde5ee" />
<rect x="323.00" y="111.04" width="149.80" height="14.80" fill="#dde5ee" />
<rect x="323.00" y="149.26" width="149.80" height="14.80" fill="#dde5ee" />
<rect x="323.00" y="187.48" width="149.80" height="14.80" fill="#dde5ee" />
<rect x="323.00" y="225.70" width="149.80" height="14.80" fill="#dde5ee" />
<rect x="323.00" y="263.92" width="149.80" height="14.80" fill="#dde5ee" />
<rect x="323.00" y="302.14" width="149.80" height="14.80" fill="#dde5ee" />
<rect x="323.00" y="340.36" width="149.80" height="14.80" fill="#dde5ee" />
<line x1="344.50" y1="32.20" x2="344.50" y2="357.30" stroke="#a0a0a0" stroke-width="0.6" />
<line x1="337.50" y1="37.60" x2="360.90" y2="37.60" stroke="#1e1e1e" stroke-width="1.05" />
<line x1="337.50" y1="34.90" x2="337.50" y2="40.30" stroke="#1e1e1e" stroke-width="1.0" />
<line x1="360.90" y1="34.90" x2="360.90" y2="40.30" stroke="#1e1e1e" stroke-width="1.0" />
<rect x="344.40" y="35.20" width="4.80" height="4.80" fill="#c8102e" />
<line x1="338.50" y1="47.16" x2="381.20" y2="47.16" stroke="#1e1e1e" stroke-width="1.05" />
<line x1="338.50" y1="44.45" x2="338.50" y2="49.86" stroke="#1e1e1e" stroke-width="1.0" />
<line x1="381.20" y1="44.45" x2="381.20" y2="49.86" stroke="#1e1e1e" stroke-width="1.0" />
<rect x="350.20" y="44.76" width="4.80" height="4.80" fill="#c8102e" />
<line x1="334.50" y1="56.71" x2="356.90" y2="56.71" stroke="#1e1e1e" stroke-width="1.05" />
<line x1="334.50" y1="54.01" x2="334.50" y2="59.41" stroke="#1e1e1e" stroke-width="1.0" />
<line x1="356.90" y1="54.01" x2="356.90" y2="59.41" stroke="#1e1e1e" stroke-width="1.0" />
<rect x="340.10" y="54.31" width="4.80" height="4.80" fill="#c8102e" />
<line x1="345.50" y1="66.27" x2="379.40" y2="66.27" stroke="#1e1e1e" stroke-width="1.05" />
<line x1="345.50" y1="63.56" x2="345.50" y2="68.97" stroke="#1e1e1e" stroke-width="1.0" />
<line x1="379.40" y1="63.56" x2="379.40" y2="68.97" stroke="#1e1e1e" stroke-width="1.0" />
<rect x="356.40" y="63.87" width="4.80" height="4.80" fill="#c8102e" />
<line x1="339.10" y1="75.82" x2="375.40" y2="75.82" stroke="#1e1e1e" stroke-width="1.05" />
<line x1="339.10" y1="73.12" x2="339.10" y2="78.52" stroke="#1e1e1e" stroke-width="1.0" />
<line x1="375.40" y1="73.12" x2="375.40" y2="78.52" stroke="#1e1e1e" stroke-width="1.0" />
<rect x="349.30" y="73.42" width="4.80" height="4.80" fill="#c8102e" />
<line x1="350.50" y1="85.38" x2="395.10" y2="85.38" stroke="#1e1e1e" stroke-width="1.05" />
<line x1="350.50" y1="82.67" x2="350.50" y2="88.08" stroke="#1e1e1e" stroke-width="1.0" />
<line x1="395.10" y1="82.67" x2="395.10" y2="88.08" stroke="#1e1e1e" stroke-width="1.0" />
<rect x="364.70" y="82.97" width="4.80" height="4.80" fill="#c8102e" />
<line x1="335.10" y1="94.93" x2="388.30" y2="94.93" stroke="#1e1e1e" stroke-width="1.05" />
<line x1="335.10" y1="92.23" x2="335.10" y2="97.63" stroke="#1e1e1e" stroke-width="1.0" />
<line x1="388.30" y1="92.23" x2="388.30" y2="97.63" stroke="#1e1e1e" stroke-width="1.0" />
<rect x="348.70" y="92.53" width="4.80" height="4.80" fill="#c8102e" />
<line x1="335.70" y1="104.48" x2="368.60" y2="104.48" stroke="#1e1e1e" stroke-width="1.05" />
<line x1="335.70" y1="101.78" x2="335.70" y2="107.18" stroke="#1e1e1e" stroke-width="1.0" />
<line x1="368.60" y1="101.78" x2="368.60" y2="107.18" stroke="#1e1e1e" stroke-width="1.0" />
<rect x="344.40" y="102.08" width="4.80" height="4.80" fill="#c8102e" />
<line x1="338.50" y1="114.04" x2="377.50" y2="114.04" stroke="#1e1e1e" stroke-width="1.05" />
<line x1="338.50" y1="111.34" x2="338.50" y2="116.74" stroke="#1e1e1e" stroke-width="1.0" />
<line x1="377.50" y1="111.34" x2="377.50" y2="116.74" stroke="#1e1e1e" stroke-width="1.0" />
<rect x="349.60" y="111.64" width="4.80" height="4.80" fill="#c8102e" />
<line x1="343.70" y1="123.59" x2="398.80" y2="123.59" stroke="#1e1e1e" stroke-width="1.05" />
<line x1="343.70" y1="120.89" x2="343.70" y2="126.30" stroke="#1e1e1e" stroke-width="1.0" />
<line x1="398.80" y1="120.89" x2="398.80" y2="126.30" stroke="#1e1e1e" stroke-width="1.0" />
<rect x="360.40" y="121.19" width="4.80" height="4.80" fill="#c8102e" />
<line x1="341.80" y1="133.15" x2="374.20" y2="133.15" stroke="#1e1e1e" stroke-width="1.05" />
<line x1="341.80" y1="130.45" x2="341.80" y2="135.85" stroke="#1e1e1e" stroke-width="1.0" />
<line x1="374.20" y1="130.45" x2="374.20" y2="135.85" stroke="#1e1e1e" stroke-width="1.0" />
<rect x="351.40" y="130.75" width="4.80" height="4.80" fill="#c8102e" />
<line x1="340.30" y1="142.70" x2="404.30" y2="142.70" stroke="#1e1e1e" stroke-width="1.05" />
<line x1="340.30" y1="140.00" x2="340.30" y2="145.40" stroke="#1e1e1e" stroke-width="1.0" />
<line x1="404.30" y1="140.00" x2="404.30" y2="145.40" stroke="#1e1e1e" stroke-width="1.0" />
<rect x="357.60" y="140.30" width="4.80" height="4.80" fill="#c8102e" />
<line x1="345.80" y1="152.26" x2="387.70" y2="152.26" stroke="#1e1e1e" stroke-width="1.05" />
<line x1="345.80" y1="149.56" x2="345.80" y2="154.96" stroke="#1e1e1e" stroke-width="1.0" />
<line x1="387.70" y1="149.56" x2="387.70" y2="154.96" stroke="#1e1e1e" stroke-width="1.0" />
<rect x="358.80" y="149.86" width="4.80" height="4.80" fill="#c8102e" />
<line x1="337.50" y1="161.81" x2="362.80" y2="161.81" stroke="#1e1e1e" stroke-width="1.05" />
<line x1="337.50" y1="159.12" x2="337.50" y2="164.51" stroke="#1e1e1e" stroke-width="1.0" />
<line x1="362.80" y1="159.12" x2="362.80" y2="164.51" stroke="#1e1e1e" stroke-width="1.0" />
<rect x="344.40" y="159.41" width="4.80" height="4.80" fill="#c8102e" />
<line x1="340.60" y1="171.37" x2="369.20" y2="171.37" stroke="#1e1e1e" stroke-width="1.05" />
<line x1="340.60" y1="168.67" x2="340.60" y2="174.07" stroke="#1e1e1e" stroke-width="1.0" />
<line x1="369.20" y1="168.67" x2="369.20" y2="174.07" stroke="#1e1e1e" stroke-width="1.0" />
<rect x="349.00" y="168.97" width="4.80" height="4.80" fill="#c8102e" />
<line x1="335.70" y1="180.92" x2="360.00" y2="180.92" stroke="#1e1e1e" stroke-width="1.05" />
<line x1="335.70" y1="178.22" x2="335.70" y2="183.62" stroke="#1e1e1e" stroke-width="1.0" />
<line x1="360.00" y1="178.22" x2="360.00" y2="183.62" stroke="#1e1e1e" stroke-width="1.0" />
<rect x="342.20" y="178.52" width="4.80" height="4.80" fill="#c8102e" />
<line x1="341.80" y1="190.48" x2="372.30" y2="190.48" stroke="#1e1e1e" stroke-width="1.05" />
<line x1="341.80" y1="187.78" x2="341.80" y2="193.18" stroke="#1e1e1e" stroke-width="1.0" />
<line x1="372.30" y1="187.78" x2="372.30" y2="193.18" stroke="#1e1e1e" stroke-width="1.0" />
<rect x="351.10" y="188.08" width="4.80" height="4.80" fill="#c8102e" />
<line x1="349.20" y1="200.03" x2="392.30" y2="200.03" stroke="#1e1e1e" stroke-width="1.05" />
<line x1="349.20" y1="197.34" x2="349.20" y2="202.73" stroke="#1e1e1e" stroke-width="1.0" />
<line x1="392.30" y1="197.34" x2="392.30" y2="202.73" stroke="#1e1e1e" stroke-width="1.0" />
<rect x="363.10" y="197.63" width="4.80" height="4.80" fill="#c8102e" />
<line x1="349.20" y1="209.59" x2="391.70" y2="209.59" stroke="#1e1e1e" stroke-width="1.05" />
<line x1="349.20" y1="206.89" x2="349.20" y2="212.29" stroke="#1e1e1e" stroke-width="1.0" />
<line x1="391.70" y1="206.89" x2="391.70" y2="212.29" stroke="#1e1e1e" stroke-width="1.0" />
<rect x="362.80" y="207.19" width="4.80" height="4.80" fill="#c8102e" />
<line x1="338.50" y1="219.14" x2="372.30" y2="219.14" stroke="#1e1e1e" stroke-width="1.05" />
<line x1="338.50" y1="216.44" x2="338.50" y2="221.84" stroke="#1e1e1e" stroke-width="1.0" />
<line x1="372.30" y1="216.44" x2="372.30" y2="221.84" stroke="#1e1e1e" stroke-width="1.0" />
<rect x="347.80" y="216.74" width="4.80" height="4.80" fill="#c8102e" />
<line x1="333.50" y1="228.70" x2="365.50" y2="228.70" stroke="#1e1e1e" stroke-width="1.05" />
<line x1="333.50" y1="226.00" x2="333.50" y2="231.40" stroke="#1e1e1e" stroke-width="1.0" />
<line x1="365.50" y1="226.00" x2="365.50" y2="231.40" stroke="#1e1e1e" stroke-width="1.0" />
<rect x="341.60" y="226.30" width="4.80" height="4.80" fill="#c8102e" />
<line x1="345.20" y1="238.25" x2="386.20" y2="238.25" stroke="#1e1e1e" stroke-width="1.05" />
<line x1="345.20" y1="235.56" x2="345.20" y2="240.95" stroke="#1e1e1e" stroke-width="1.0" />
<line x1="386.20" y1="235.56" x2="386.20" y2="240.95" stroke="#1e1e1e" stroke-width="1.0" />
<rect x="357.90" y="235.85" width="4.80" height="4.80" fill="#c8102e" />
<line x1="362.20" y1="247.81" x2="464.30" y2="247.81" stroke="#1e1e1e" stroke-width="1.05" />
<line x1="362.20" y1="245.11" x2="362.20" y2="250.51" stroke="#1e1e1e" stroke-width="1.0" />
<line x1="464.30" y1="245.11" x2="464.30" y2="250.51" stroke="#1e1e1e" stroke-width="1.0" />
<rect x="395.10" y="245.41" width="4.80" height="4.80" fill="#c8102e" />
<line x1="343.10" y1="257.37" x2="375.70" y2="257.37" stroke="#1e1e1e" stroke-width="1.05" />
<line x1="343.10" y1="254.67" x2="343.10" y2="260.06" stroke="#1e1e1e" stroke-width="1.0" />
<line x1="375.70" y1="254.67" x2="375.70" y2="260.06" stroke="#1e1e1e" stroke-width="1.0" />
<rect x="353.30" y="254.97" width="4.80" height="4.80" fill="#c8102e" />
<line x1="362.20" y1="266.92" x2="472.30" y2="266.92" stroke="#1e1e1e" stroke-width="1.05" />
<polyline points="468.40,264.02 472.60,266.92 468.40,269.82" fill="none" stroke="#1e1e1e" stroke-width="1.0" />
<line x1="362.20" y1="264.22" x2="362.20" y2="269.62" stroke="#1e1e1e" stroke-width="1.0" />
<rect x="401.30" y="264.52" width="4.80" height="4.80" fill="#c8102e" />
<line x1="336.60" y1="276.48" x2="366.50" y2="276.48" stroke="#1e1e1e" stroke-width="1.05" />
<line x1="336.60" y1="273.78" x2="336.60" y2="279.18" stroke="#1e1e1e" stroke-width="1.0" />
<line x1="366.50" y1="273.78" x2="366.50" y2="279.18" stroke="#1e1e1e" stroke-width="1.0" />
<rect x="344.70" y="274.08" width="4.80" height="4.80" fill="#c8102e" />
<line x1="343.70" y1="286.03" x2="398.50" y2="286.03" stroke="#1e1e1e" stroke-width="1.05" />
<line x1="343.70" y1="283.33" x2="343.70" y2="288.73" stroke="#1e1e1e" stroke-width="1.0" />
<line x1="398.50" y1="283.33" x2="398.50" y2="288.73" stroke="#1e1e1e" stroke-width="1.0" />
<rect x="360.10" y="283.63" width="4.80" height="4.80" fill="#c8102e" />
<line x1="343.40" y1="295.59" x2="396.30" y2="295.59" stroke="#1e1e1e" stroke-width="1.05" />
<line x1="343.40" y1="292.89" x2="343.40" y2="298.29" stroke="#1e1e1e" stroke-width="1.0" />
<line x1="396.30" y1="292.89" x2="396.30" y2="298.29" stroke="#1e1e1e" stroke-width="1.0" />
<rect x="359.10" y="293.19" width="4.80" height="4.80" fill="#c8102e" />
<line x1="365.80" y1="305.14" x2="472.30" y2="305.14" stroke="#1e1e1e" stroke-width="1.05" />
<polyline points="468.40,302.24 472.60,305.14 468.40,308.04" fill="none" stroke="#1e1e1e" stroke-width="1.0" />
<line x1="365.80" y1="302.44" x2="365.80" y2="307.84" stroke="#1e1e1e" stroke-width="1.0" />
<rect x="424.70" y="302.74" width="4.80" height="4.80" fill="#c8102e" />
<line x1="342.90" y1="314.69" x2="391.80" y2="314.69" stroke="#1e1e1e" stroke-width="1.05" />
<line x1="342.90" y1="312.00" x2="342.90" y2="317.39" stroke="#1e1e1e" stroke-width="1.0" />
<line x1="391.80" y1="312.00" x2="391.80" y2="317.39" stroke="#1e1e1e" stroke-width="1.0" />
<rect x="357.70" y="312.30" width="4.80" height="4.80" fill="#c8102e" />
<line x1="337.50" y1="324.25" x2="388.40" y2="324.25" stroke="#1e1e1e" stroke-width="1.05" />
<line x1="337.50" y1="321.55" x2="337.50" y2="326.95" stroke="#1e1e1e" stroke-width="1.0" />
<line x1="388.40" y1="321.55" x2="388.40" y2="326.95" stroke="#1e1e1e" stroke-width="1.0" />
<rect x="351.80" y="321.85" width="4.80" height="4.80" fill="#c8102e" />
<line x1="346.20" y1="333.81" x2="381.80" y2="333.81" stroke="#1e1e1e" stroke-width="1.05" />
<line x1="346.20" y1="331.11" x2="346.20" y2="336.50" stroke="#1e1e1e" stroke-width="1.0" />
<line x1="381.80" y1="331.11" x2="381.80" y2="336.50" stroke="#1e1e1e" stroke-width="1.0" />
<rect x="357.60" y="331.41" width="4.80" height="4.80" fill="#c8102e" />
<line x1="348.50" y1="343.36" x2="390.00" y2="343.36" stroke="#1e1e1e" stroke-width="1.05" />
<line x1="348.50" y1="340.66" x2="348.50" y2="346.06" stroke="#1e1e1e" stroke-width="1.0" />
<line x1="390.00" y1="340.66" x2="390.00" y2="346.06" stroke="#1e1e1e" stroke-width="1.0" />
<rect x="362.00" y="340.96" width="4.80" height="4.80" fill="#c8102e" />
<line x1="344.60" y1="352.92" x2="383.10" y2="352.92" stroke="#1e1e1e" stroke-width="1.05" />
<line x1="344.60" y1="350.22" x2="344.60" y2="355.62" stroke="#1e1e1e" stroke-width="1.0" />
<line x1="383.10" y1="350.22" x2="383.10" y2="355.62" stroke="#1e1e1e" stroke-width="1.0" />
<rect x="356.80" y="350.52" width="4.80" height="4.80" fill="#c8102e" />
<line x1="323.00" y1="357.30" x2="472.80" y2="357.30" stroke="#333" stroke-width="1.0" />
<line x1="323.10" y1="357.30" x2="323.10" y2="360.90" stroke="#333" stroke-width="0.9" />
<text x="323.10" y="368.70" font-size="8.1" fill="#231f20" stroke="#231f20" stroke-width="0.16" text-anchor="middle" >0</text>
<line x1="344.60" y1="357.30" x2="344.60" y2="360.90" stroke="#333" stroke-width="0.9" />
<text x="344.60" y="368.70" font-size="8.1" fill="#231f20" stroke="#231f20" stroke-width="0.16" text-anchor="middle" >1</text>
<line x1="366.10" y1="357.30" x2="366.10" y2="360.90" stroke="#333" stroke-width="0.9" />
<text x="366.10" y="368.70" font-size="8.1" fill="#231f20" stroke="#231f20" stroke-width="0.16" text-anchor="middle" >2</text>
<line x1="387.50" y1="357.30" x2="387.50" y2="360.90" stroke="#333" stroke-width="0.9" />
<text x="387.50" y="368.70" font-size="8.1" fill="#231f20" stroke="#231f20" stroke-width="0.16" text-anchor="middle" >3</text>
<line x1="409.00" y1="357.30" x2="409.00" y2="360.90" stroke="#333" stroke-width="0.9" />
<text x="409.00" y="368.70" font-size="8.1" fill="#231f20" stroke="#231f20" stroke-width="0.16" text-anchor="middle" >4</text>
<line x1="430.40" y1="357.30" x2="430.40" y2="360.90" stroke="#333" stroke-width="0.9" />
<text x="430.40" y="368.70" font-size="8.1" fill="#231f20" stroke="#231f20" stroke-width="0.16" text-anchor="middle" >5</text>
<line x1="451.30" y1="357.30" x2="451.30" y2="360.90" stroke="#333" stroke-width="0.9" />
<text x="451.30" y="368.70" font-size="8.1" fill="#231f20" stroke="#231f20" stroke-width="0.16" text-anchor="middle" >6</text>
<line x1="459.50" y1="357.30" x2="459.50" y2="360.90" stroke="#333" stroke-width="0.9" />
<text x="459.50" y="368.70" font-size="8.1" fill="#231f20" stroke="#231f20" stroke-width="0.16" text-anchor="middle" >7</text>
<text x="377.90" y="382.30" font-size="8.8" fill="#231f20" stroke="#231f20" stroke-width="0.16" text-anchor="start" textLength="39.80" lengthAdjust="spacingAndGlyphs" >Hazard ratio</text>
<line x1="483.30" y1="32.20" x2="483.30" y2="357.30" stroke="#d2d2d2" stroke-width="0.7" />
<line x1="496.60" y1="32.20" x2="496.60" y2="357.30" stroke="#d2d2d2" stroke-width="0.7" />
<line x1="502.90" y1="32.20" x2="502.90" y2="357.30" stroke="#d2d2d2" stroke-width="0.7" />
<line x1="509.50" y1="32.20" x2="509.50" y2="357.30" stroke="#d2d2d2" stroke-width="0.7" />
<rect x="476.60" y="62.56" width="1.40" height="7.40" fill="#5a86b0" />
<rect x="476.60" y="81.67" width="13.30" height="7.40" fill="#c8102e" />
<rect x="476.60" y="148.56" width="1.40" height="7.40" fill="#5a86b0" />
<rect x="476.60" y="196.34" width="9.80" height="7.40" fill="#11508a" />
<rect x="476.60" y="205.89" width="9.10" height="7.40" fill="#11508a" />
<rect x="476.60" y="244.11" width="31.20" height="7.40" fill="#11508a" />
<rect x="476.60" y="263.22" width="25.80" height="7.40" fill="#11508a" />
<rect x="476.60" y="301.44" width="23.70" height="7.40" fill="#11508a" />
<rect x="476.60" y="330.11" width="1.50" height="7.40" fill="#11508a" />
<rect x="476.60" y="339.66" width="8.30" height="7.40" fill="#11508a" />
<line x1="489.60" y1="32.20" x2="489.60" y2="357.60" stroke="#222" stroke-width="0.9" stroke-dasharray="1.6 2.5"/>
<line x1="476.60" y1="32.20" x2="476.60" y2="357.30" stroke="#555" stroke-width="0.9" />
<text x="511.30" y="250.41" font-size="5.2" fill="#111" stroke="#111" stroke-width="0.16" text-anchor="middle" >★</text>
<text x="505.80" y="269.52" font-size="5.2" fill="#111" stroke="#111" stroke-width="0.16" text-anchor="middle" >★</text>
<text x="503.30" y="307.74" font-size="5.2" fill="#111" stroke="#111" stroke-width="0.16" text-anchor="middle" >★</text>
<text x="476.80" y="368.70" font-size="8.1" fill="#231f20" stroke="#231f20" stroke-width="0.16" text-anchor="middle" >0</text>
<text x="489.80" y="368.70" font-size="8.1" fill="#231f20" stroke="#231f20" stroke-width="0.16" text-anchor="middle" >1</text>
<text x="502.80" y="368.70" font-size="8.1" fill="#231f20" stroke="#231f20" stroke-width="0.16" text-anchor="middle" >2</text>
<text x="473.50" y="382.30" font-size="8.8" fill="#231f20" stroke="#231f20" stroke-width="0.16" text-anchor="start" textLength="40.20" lengthAdjust="spacingAndGlyphs" >−log10 FDR</text>
<line x1="202.10" y1="33.60" x2="218.80" y2="36.70" stroke="#3a3a3a" stroke-width="0.7" />
<line x1="202.10" y1="33.60" x2="218.80" y2="46.26" stroke="#3a3a3a" stroke-width="0.7" />
<line x1="202.10" y1="33.80" x2="218.80" y2="55.81" stroke="#3a3a3a" stroke-width="0.7" />
<line x1="202.10" y1="34.00" x2="218.80" y2="65.36" stroke="#3a3a3a" stroke-width="0.7" />
<line x1="202.10" y1="46.50" x2="218.80" y2="74.92" stroke="#3a3a3a" stroke-width="0.7" />
<line x1="202.10" y1="47.50" x2="218.80" y2="84.47" stroke="#3a3a3a" stroke-width="0.7" />
<line x1="202.10" y1="59.00" x2="218.80" y2="94.03" stroke="#3a3a3a" stroke-width="0.7" />
<line x1="202.10" y1="67.10" x2="218.80" y2="103.58" stroke="#3a3a3a" stroke-width="0.7" />
<line x1="202.10" y1="77.00" x2="218.80" y2="113.14" stroke="#3a3a3a" stroke-width="0.7" />
<line x1="202.10" y1="92.00" x2="218.80" y2="122.69" stroke="#3a3a3a" stroke-width="0.7" />
<line x1="202.10" y1="97.80" x2="218.80" y2="132.25" stroke="#3a3a3a" stroke-width="0.7" />
<line x1="202.10" y1="115.60" x2="218.80" y2="141.80" stroke="#3a3a3a" stroke-width="0.7" />
<line x1="202.10" y1="139.10" x2="218.80" y2="151.36" stroke="#3a3a3a" stroke-width="0.7" />
<line x1="202.10" y1="143.60" x2="218.80" y2="160.91" stroke="#3a3a3a" stroke-width="0.7" />
<line x1="202.10" y1="166.00" x2="218.80" y2="170.47" stroke="#3a3a3a" stroke-width="0.7" />
<line x1="202.10" y1="172.10" x2="218.80" y2="180.02" stroke="#3a3a3a" stroke-width="0.7" />
<line x1="202.10" y1="178.70" x2="218.80" y2="189.58" stroke="#3a3a3a" stroke-width="0.7" />
<line x1="202.10" y1="193.60" x2="218.80" y2="199.13" stroke="#3a3a3a" stroke-width="0.7" />
<line x1="202.10" y1="193.60" x2="218.80" y2="208.69" stroke="#3a3a3a" stroke-width="0.7" />
<line x1="202.10" y1="201.30" x2="218.80" y2="218.24" stroke="#3a3a3a" stroke-width="0.7" />
<line x1="202.10" y1="219.60" x2="218.80" y2="227.80" stroke="#3a3a3a" stroke-width="0.7" />
<line x1="202.10" y1="220.00" x2="218.80" y2="237.35" stroke="#3a3a3a" stroke-width="0.7" />
<line x1="202.10" y1="241.10" x2="218.80" y2="246.91" stroke="#3a3a3a" stroke-width="0.7" />
<line x1="202.10" y1="260.40" x2="218.80" y2="256.47" stroke="#3a3a3a" stroke-width="0.7" />
<line x1="202.10" y1="262.00" x2="218.80" y2="266.02" stroke="#3a3a3a" stroke-width="0.7" />
<line x1="202.10" y1="285.40" x2="218.80" y2="275.58" stroke="#3a3a3a" stroke-width="0.7" />
<line x1="202.10" y1="290.60" x2="218.80" y2="285.13" stroke="#3a3a3a" stroke-width="0.7" />
<line x1="202.10" y1="293.10" x2="218.80" y2="294.69" stroke="#3a3a3a" stroke-width="0.7" />
<line x1="202.10" y1="303.80" x2="218.80" y2="304.24" stroke="#3a3a3a" stroke-width="0.7" />
<line x1="202.10" y1="306.40" x2="218.80" y2="313.80" stroke="#3a3a3a" stroke-width="0.7" />
<line x1="202.10" y1="317.60" x2="218.80" y2="323.35" stroke="#3a3a3a" stroke-width="0.7" />
<line x1="202.10" y1="322.60" x2="218.80" y2="332.91" stroke="#3a3a3a" stroke-width="0.7" />
<line x1="202.10" y1="323.10" x2="218.80" y2="342.46" stroke="#3a3a3a" stroke-width="0.7" />
<line x1="202.10" y1="335.40" x2="218.80" y2="352.02" stroke="#3a3a3a" stroke-width="0.7" />
<text x="8.10" y="402.20" font-size="11.6" fill="#000" text-anchor="start" font-weight="bold" >B</text>
<line x1="46.90" y1="402.50" x2="46.90" y2="525.90" stroke="#111" stroke-width="1.4" />
<line x1="46.20" y1="525.20" x2="233.80" y2="525.20" stroke="#111" stroke-width="1.4" />
<line x1="43.60" y1="408.30" x2="46.90" y2="408.30" stroke="#111" stroke-width="0.9" />
<text x="40.90" y="411.10" font-size="8.2" fill="#231f20" stroke="#231f20" stroke-width="0.16" text-anchor="end" textLength="19.29" lengthAdjust="spacingAndGlyphs" >100%</text>
<line x1="43.60" y1="436.10" x2="46.90" y2="436.10" stroke="#111" stroke-width="0.9" />
<text x="40.90" y="438.90" font-size="8.2" fill="#231f20" stroke="#231f20" stroke-width="0.16" text-anchor="end" textLength="15.10" lengthAdjust="spacingAndGlyphs" >75%</text>
<line x1="43.60" y1="463.90" x2="46.90" y2="463.90" stroke="#111" stroke-width="0.9" />
<text x="40.90" y="466.70" font-size="8.2" fill="#231f20" stroke="#231f20" stroke-width="0.16" text-anchor="end" textLength="15.10" lengthAdjust="spacingAndGlyphs" >50%</text>
<line x1="43.60" y1="491.70" x2="46.90" y2="491.70" stroke="#111" stroke-width="0.9" />
<text x="40.90" y="494.50" font-size="8.2" fill="#231f20" stroke="#231f20" stroke-width="0.16" text-anchor="end" textLength="15.10" lengthAdjust="spacingAndGlyphs" >25%</text>
<line x1="43.60" y1="519.50" x2="46.90" y2="519.50" stroke="#111" stroke-width="0.9" />
<text x="40.90" y="522.30" font-size="8.2" fill="#231f20" stroke="#231f20" stroke-width="0.16" text-anchor="end" textLength="10.90" lengthAdjust="spacingAndGlyphs" >0%</text>
<line x1="55.50" y1="525.20" x2="55.50" y2="528.60" stroke="#111" stroke-width="0.9" />
<text x="55.50" y="537.70" font-size="8.7" fill="#231f20" stroke="#231f20" stroke-width="0.16" text-anchor="middle" >0</text>
<line x1="83.75" y1="525.20" x2="83.75" y2="528.60" stroke="#111" stroke-width="0.9" />
<text x="83.75" y="537.70" font-size="8.7" fill="#231f20" stroke="#231f20" stroke-width="0.16" text-anchor="middle" >6</text>
<line x1="112.00" y1="525.20" x2="112.00" y2="528.60" stroke="#111" stroke-width="0.9" />
<text x="112.00" y="537.70" font-size="8.7" fill="#231f20" stroke="#231f20" stroke-width="0.16" text-anchor="middle" >12</text>
<line x1="140.25" y1="525.20" x2="140.25" y2="528.60" stroke="#111" stroke-width="0.9" />
<text x="140.25" y="537.70" font-size="8.7" fill="#231f20" stroke="#231f20" stroke-width="0.16" text-anchor="middle" >18</text>
<line x1="168.50" y1="525.20" x2="168.50" y2="528.60" stroke="#111" stroke-width="0.9" />
<text x="168.50" y="537.70" font-size="8.7" fill="#231f20" stroke="#231f20" stroke-width="0.16" text-anchor="middle" >24</text>
<line x1="196.75" y1="525.20" x2="196.75" y2="528.60" stroke="#111" stroke-width="0.9" />
<text x="196.75" y="537.70" font-size="8.7" fill="#231f20" stroke="#231f20" stroke-width="0.16" text-anchor="middle" >30</text>
<line x1="225.00" y1="525.20" x2="225.00" y2="528.60" stroke="#111" stroke-width="0.9" />
<text x="225.00" y="537.70" font-size="8.7" fill="#231f20" stroke="#231f20" stroke-width="0.16" text-anchor="middle" >36</text>
<text x="106.30" y="551.20" font-size="8.8" fill="#231f20" stroke="#231f20" stroke-width="0.16" text-anchor="start" textLength="48.30" lengthAdjust="spacingAndGlyphs" >Time (months)</text>
<text transform="translate(16.00,464.6) rotate(-90)" x="0" y="0" font-size="9" fill="#231f20" stroke="#231f20" stroke-width="0.16" text-anchor="middle" textLength="81" lengthAdjust="spacingAndGlyphs">Progression-free survival</text>
<polyline points="55.50,408.40 57.90,408.40 58.60,408.40 58.60,410.80 59.40,410.80 59.40,413.70 60.10,413.70 60.10,417.30 60.80,417.30 60.80,420.90 61.50,420.90 61.50,423.80 62.20,423.80 62.20,425.90 63.00,425.90 63.00,428.10 64.00,428.10 64.00,430.30 65.10,430.30 65.10,432.40 65.60,432.40 65.60,435.30 65.90,435.30 65.90,438.20 67.30,438.20 67.30,439.60 68.70,439.60 68.70,441.10 69.50,441.10 69.50,443.20 70.20,443.20 70.20,446.10 71.60,446.10 71.60,449.70 73.10,449.70 73.10,452.60 74.50,452.60 74.50,455.50 75.20,455.50 75.20,457.60 75.90,457.60 75.90,460.50 76.70,460.50 76.70,462.70 78.10,462.70 78.10,464.10 80.30,464.10 80.30,465.60 81.70,465.60 81.70,466.30 84.60,466.30 84.60,466.60 86.00,466.60 86.00,467.70 88.90,467.70 88.90,469.20 90.30,469.20 90.30,469.90 91.80,469.90 91.80,472.80 93.20,472.80 93.20,473.80 96.10,473.80 96.10,474.20 97.60,474.20 97.60,474.80 104.00,474.80 104.00,476.20 111.30,476.20 111.30,478.80 114.80,478.80 114.80,480.70 145.20,480.70 145.20,482.90 172.20,482.90 172.20,486.90 178.10,486.90 178.10,491.00 182.10,491.00 182.10,495.00 187.00,495.00 187.00,499.30 224.90,499.30" fill="none" stroke="#c8102e" stroke-width="1.3" />
<polyline points="55.50,408.40 57.90,408.40 57.90,417.30 58.90,417.30 58.90,426.70 59.80,426.70 59.80,454.00 60.10,454.00 60.10,463.60 63.50,463.60 63.50,473.30 67.90,473.30 67.90,482.70 72.50,482.70 72.50,491.60 74.30,491.60 74.30,501.30 77.60,501.30 77.60,510.10 84.20,510.10 84.20,519.50" fill="none" stroke="#225d97" stroke-width="1.3" />
<line x1="160.00" y1="425.60" x2="168.80" y2="425.60" stroke="#c8102e" stroke-width="1.3" />
<line x1="160.00" y1="437.00" x2="168.80" y2="437.00" stroke="#225d97" stroke-width="1.3" />
<text x="172.10" y="429.20" font-size="8.4" fill="#231f20" stroke="#231f20" stroke-width="0.1" text-anchor="start" textLength="56.70" lengthAdjust="spacingAndGlyphs" >Diploid 10q23.31</text>
<text x="172.10" y="440.80" font-size="8.4" fill="#231f20" stroke="#231f20" stroke-width="0.1" text-anchor="start" textLength="60.90" lengthAdjust="spacingAndGlyphs" >Deletion 10q23.31</text>
<text x="185.20" y="452.50" font-size="8.4" fill="#231f20" stroke="#231f20" stroke-width="0.1" text-anchor="start" textLength="35.50" lengthAdjust="spacingAndGlyphs" >p &lt; 0.0001</text>
<text x="29.20" y="562.70" font-size="7.6" fill="#231f20" stroke="#231f20" stroke-width="0.16" text-anchor="start" textLength="48.90" lengthAdjust="spacingAndGlyphs" >Number at risk</text>
<line x1="29.30" y1="571.20" x2="37.50" y2="571.20" stroke="#c8102e" stroke-width="1.3" />
<line x1="29.30" y1="581.20" x2="37.50" y2="581.20" stroke="#225d97" stroke-width="1.3" />
<text x="55.50" y="574.00" font-size="8.0" fill="#231f20" stroke="#231f20" stroke-width="0.16" text-anchor="middle" >96</text>
<text x="55.50" y="584.00" font-size="8.0" fill="#231f20" stroke="#231f20" stroke-width="0.16" text-anchor="middle" >12</text>
<text x="83.75" y="574.00" font-size="8.0" fill="#231f20" stroke="#231f20" stroke-width="0.16" text-anchor="middle" >41</text>
<text x="83.75" y="584.00" font-size="8.0" fill="#231f20" stroke="#231f20" stroke-width="0.16" text-anchor="middle" >1</text>
<text x="112.00" y="574.00" font-size="8.0" fill="#231f20" stroke="#231f20" stroke-width="0.16" text-anchor="middle" >26</text>
<text x="112.00" y="584.00" font-size="8.0" fill="#231f20" stroke="#231f20" stroke-width="0.16" text-anchor="middle" >0</text>
<text x="140.25" y="574.00" font-size="8.0" fill="#231f20" stroke="#231f20" stroke-width="0.16" text-anchor="middle" >20</text>
<text x="140.25" y="584.00" font-size="8.0" fill="#231f20" stroke="#231f20" stroke-width="0.16" text-anchor="middle" >0</text>
<text x="168.50" y="574.00" font-size="8.0" fill="#231f20" stroke="#231f20" stroke-width="0.16" text-anchor="middle" >10</text>
<text x="168.50" y="584.00" font-size="8.0" fill="#231f20" stroke="#231f20" stroke-width="0.16" text-anchor="middle" >0</text>
<text x="196.75" y="574.00" font-size="8.0" fill="#231f20" stroke="#231f20" stroke-width="0.16" text-anchor="middle" >4</text>
<text x="196.75" y="584.00" font-size="8.0" fill="#231f20" stroke="#231f20" stroke-width="0.16" text-anchor="middle" >0</text>
<text x="225.00" y="574.00" font-size="8.0" fill="#231f20" stroke="#231f20" stroke-width="0.16" text-anchor="middle" >0</text>
<text x="225.00" y="584.00" font-size="8.0" fill="#231f20" stroke="#231f20" stroke-width="0.16" text-anchor="middle" >0</text>
<text x="287.00" y="402.20" font-size="11.6" fill="#000" text-anchor="start" font-weight="bold" >C</text>
<line x1="326.90" y1="402.50" x2="326.90" y2="525.90" stroke="#111" stroke-width="1.4" />
<line x1="326.20" y1="525.20" x2="513.80" y2="525.20" stroke="#111" stroke-width="1.4" />
<line x1="323.60" y1="408.30" x2="326.90" y2="408.30" stroke="#111" stroke-width="0.9" />
<text x="320.90" y="411.10" font-size="8.2" fill="#231f20" stroke="#231f20" stroke-width="0.16" text-anchor="end" textLength="19.29" lengthAdjust="spacingAndGlyphs" >100%</text>
<line x1="323.60" y1="436.10" x2="326.90" y2="436.10" stroke="#111" stroke-width="0.9" />
<text x="320.90" y="438.90" font-size="8.2" fill="#231f20" stroke="#231f20" stroke-width="0.16" text-anchor="end" textLength="15.10" lengthAdjust="spacingAndGlyphs" >75%</text>
<line x1="323.60" y1="463.90" x2="326.90" y2="463.90" stroke="#111" stroke-width="0.9" />
<text x="320.90" y="466.70" font-size="8.2" fill="#231f20" stroke="#231f20" stroke-width="0.16" text-anchor="end" textLength="15.10" lengthAdjust="spacingAndGlyphs" >50%</text>
<line x1="323.60" y1="491.70" x2="326.90" y2="491.70" stroke="#111" stroke-width="0.9" />
<text x="320.90" y="494.50" font-size="8.2" fill="#231f20" stroke="#231f20" stroke-width="0.16" text-anchor="end" textLength="15.10" lengthAdjust="spacingAndGlyphs" >25%</text>
<line x1="323.60" y1="519.50" x2="326.90" y2="519.50" stroke="#111" stroke-width="0.9" />
<text x="320.90" y="522.30" font-size="8.2" fill="#231f20" stroke="#231f20" stroke-width="0.16" text-anchor="end" textLength="10.90" lengthAdjust="spacingAndGlyphs" >0%</text>
<line x1="335.50" y1="525.20" x2="335.50" y2="528.60" stroke="#111" stroke-width="0.9" />
<text x="335.50" y="537.70" font-size="8.7" fill="#231f20" stroke="#231f20" stroke-width="0.16" text-anchor="middle" >0</text>
<line x1="363.75" y1="525.20" x2="363.75" y2="528.60" stroke="#111" stroke-width="0.9" />
<text x="363.75" y="537.70" font-size="8.7" fill="#231f20" stroke="#231f20" stroke-width="0.16" text-anchor="middle" >6</text>
<line x1="392.00" y1="525.20" x2="392.00" y2="528.60" stroke="#111" stroke-width="0.9" />
<text x="392.00" y="537.70" font-size="8.7" fill="#231f20" stroke="#231f20" stroke-width="0.16" text-anchor="middle" >12</text>
<line x1="420.25" y1="525.20" x2="420.25" y2="528.60" stroke="#111" stroke-width="0.9" />
<text x="420.25" y="537.70" font-size="8.7" fill="#231f20" stroke="#231f20" stroke-width="0.16" text-anchor="middle" >18</text>
<line x1="448.50" y1="525.20" x2="448.50" y2="528.60" stroke="#111" stroke-width="0.9" />
<text x="448.50" y="537.70" font-size="8.7" fill="#231f20" stroke="#231f20" stroke-width="0.16" text-anchor="middle" >24</text>
<line x1="476.75" y1="525.20" x2="476.75" y2="528.60" stroke="#111" stroke-width="0.9" />
<text x="476.75" y="537.70" font-size="8.7" fill="#231f20" stroke="#231f20" stroke-width="0.16" text-anchor="middle" >30</text>
<line x1="505.00" y1="525.20" x2="505.00" y2="528.60" stroke="#111" stroke-width="0.9" />
<text x="505.00" y="537.70" font-size="8.7" fill="#231f20" stroke="#231f20" stroke-width="0.16" text-anchor="middle" >36</text>
<text x="399.40" y="551.20" font-size="8.8" fill="#231f20" stroke="#231f20" stroke-width="0.16" text-anchor="start" textLength="48.30" lengthAdjust="spacingAndGlyphs" >Time (months)</text>
<text transform="translate(296.00,464.6) rotate(-90)" x="0" y="0" font-size="9" fill="#231f20" stroke="#231f20" stroke-width="0.16" text-anchor="middle" textLength="50.4" lengthAdjust="spacingAndGlyphs">Overall survival</text>
<polyline points="335.50,408.40 336.20,408.40 336.20,408.50 338.50,408.50 338.50,410.00 339.20,410.00 339.20,411.50 340.50,411.50 340.50,412.30 341.10,412.30 341.10,414.60 342.30,414.60 342.30,416.20 343.80,416.20 343.80,417.70 345.40,417.70 345.40,420.00 346.20,420.00 346.20,423.10 346.90,423.10 346.90,426.90 347.70,426.90 347.70,429.20 350.00,429.20 350.00,430.00 353.10,430.00 353.10,430.80 355.40,430.80 355.40,432.00 356.90,432.00 356.90,433.10 359.20,433.10 359.20,435.10 360.80,435.10 360.80,436.90 361.50,436.90 361.50,439.20 362.30,439.20 362.30,440.80 365.70,440.80 366.90,440.80 366.90,442.30 368.50,442.30 368.50,443.80 370.80,443.80 370.80,444.30 372.30,444.30 372.30,445.80 374.60,445.80 374.60,446.90 375.80,446.90 375.80,447.70 381.50,447.70 383.10,447.70 383.10,449.50 384.60,449.50 384.60,452.00 387.70,452.00 387.70,452.60 390.00,452.60 390.00,453.80 392.30,453.80 392.30,454.60 394.60,454.60 394.60,456.20 396.20,456.20 396.20,456.90 397.70,456.90 397.70,459.70 399.20,459.70 399.20,462.30 400.00,462.30 400.00,463.10 407.50,463.10 410.00,463.10 410.00,465.00 414.50,465.00 414.50,466.40 430.60,466.40 430.60,469.60 449.30,469.60 449.30,473.30 452.60,473.30 452.60,477.50 457.90,477.50 457.90,482.40 466.90,482.40 466.90,486.60 471.10,486.60 471.10,491.40 504.80,491.40" fill="none" stroke="#c8102e" stroke-width="1.3" />
<polyline points="335.50,408.20 337.40,408.20 337.40,417.40 342.90,417.40 342.90,458.60 362.40,458.60 362.40,468.25 369.50,468.25 369.50,479.00 391.25,479.00 391.25,489.00 399.25,489.00 399.25,499.25 424.80,499.25 424.80,509.50 453.00,509.50 453.00,519.40" fill="none" stroke="#225d97" stroke-width="1.3" />
<line x1="440.90" y1="425.60" x2="449.70" y2="425.60" stroke="#c8102e" stroke-width="1.3" />
<line x1="440.90" y1="437.00" x2="449.70" y2="437.00" stroke="#225d97" stroke-width="1.3" />
<text x="453.00" y="429.20" font-size="8.4" fill="#231f20" stroke="#231f20" stroke-width="0.1" text-anchor="start" textLength="56.70" lengthAdjust="spacingAndGlyphs" >Diploid 10q23.31</text>
<text x="453.00" y="440.80" font-size="8.4" fill="#231f20" stroke="#231f20" stroke-width="0.1" text-anchor="start" textLength="60.90" lengthAdjust="spacingAndGlyphs" >Deletion 10q23.31</text>
<text x="466.10" y="452.50" font-size="8.4" fill="#231f20" stroke="#231f20" stroke-width="0.1" text-anchor="start" textLength="35.50" lengthAdjust="spacingAndGlyphs" >p = 0.0024</text>
<text x="309.20" y="562.70" font-size="7.6" fill="#231f20" stroke="#231f20" stroke-width="0.16" text-anchor="start" textLength="48.90" lengthAdjust="spacingAndGlyphs" >Number at risk</text>
<line x1="309.30" y1="571.20" x2="317.50" y2="571.20" stroke="#c8102e" stroke-width="1.3" />
<line x1="309.30" y1="581.20" x2="317.50" y2="581.20" stroke="#225d97" stroke-width="1.3" />
<text x="335.50" y="574.00" font-size="8.0" fill="#231f20" stroke="#231f20" stroke-width="0.16" text-anchor="middle" >96</text>
<text x="335.50" y="584.00" font-size="8.0" fill="#231f20" stroke="#231f20" stroke-width="0.16" text-anchor="middle" >12</text>
<text x="363.75" y="574.00" font-size="8.0" fill="#231f20" stroke="#231f20" stroke-width="0.16" text-anchor="middle" >58</text>
<text x="363.75" y="584.00" font-size="8.0" fill="#231f20" stroke="#231f20" stroke-width="0.16" text-anchor="middle" >5</text>
<text x="392.00" y="574.00" font-size="8.0" fill="#231f20" stroke="#231f20" stroke-width="0.16" text-anchor="middle" >41</text>
<text x="392.00" y="584.00" font-size="8.0" fill="#231f20" stroke="#231f20" stroke-width="0.16" text-anchor="middle" >3</text>
<text x="420.25" y="574.00" font-size="8.0" fill="#231f20" stroke="#231f20" stroke-width="0.16" text-anchor="middle" >27</text>
<text x="420.25" y="584.00" font-size="8.0" fill="#231f20" stroke="#231f20" stroke-width="0.16" text-anchor="middle" >2</text>
<text x="448.50" y="574.00" font-size="8.0" fill="#231f20" stroke="#231f20" stroke-width="0.16" text-anchor="middle" >13</text>
<text x="448.50" y="584.00" font-size="8.0" fill="#231f20" stroke="#231f20" stroke-width="0.16" text-anchor="middle" >1</text>
<text x="476.75" y="574.00" font-size="8.0" fill="#231f20" stroke="#231f20" stroke-width="0.16" text-anchor="middle" >4</text>
<text x="476.75" y="584.00" font-size="8.0" fill="#231f20" stroke="#231f20" stroke-width="0.16" text-anchor="middle" >0</text>
<text x="505.00" y="574.00" font-size="8.0" fill="#231f20" stroke="#231f20" stroke-width="0.16" text-anchor="middle" >0</text>
<text x="505.00" y="584.00" font-size="8.0" fill="#231f20" stroke="#231f20" stroke-width="0.16" text-anchor="middle" >0</text>
<rect x="0.5" y="0.5" width="519" height="589" fill="none" stroke="#000" stroke-width="1"/>
</svg>
</body></html>
